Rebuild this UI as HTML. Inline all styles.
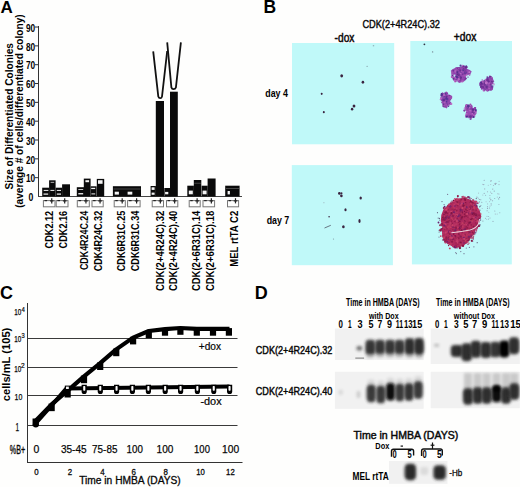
<!DOCTYPE html>
<html><head><meta charset="utf-8"><style>
html,body{margin:0;padding:0;background:#fefefd;width:520px;height:487px;overflow:hidden;}
svg{display:block;}
text{font-family:"Liberation Sans",sans-serif;}
</style></head><body>
<svg width="520" height="487" viewBox="0 0 520 487">
<defs>
<filter id="edge" x="-5%" y="-5%" width="110%" height="110%"><feGaussianBlur stdDeviation="0.6"/></filter>
<filter id="soft" x="-20%" y="-20%" width="140%" height="140%"><feGaussianBlur stdDeviation="0.3"/></filter>
<filter id="bblur" x="-60%" y="-60%" width="220%" height="220%"><feGaussianBlur stdDeviation="1.5"/></filter>
</defs>
<text x="0.6" y="12.7" font-size="17" font-weight="bold" fill="#000">A</text>
<line x1="38.5" y1="26" x2="38.5" y2="197" stroke="#333" stroke-width="1"/>
<line x1="38" y1="196.5" x2="242" y2="196.5" stroke="#444" stroke-width="1"/>
<text x="33.2" y="201.3" font-size="10" font-weight="bold" textLength="4.80" lengthAdjust="spacingAndGlyphs" text-anchor="end">0</text>
<line x1="35" y1="177.67000000000002" x2="38.5" y2="177.67000000000002" stroke="#333" stroke-width="1"/>
<text x="35.2" y="182.37" font-size="10" font-weight="bold" textLength="9.20" lengthAdjust="spacingAndGlyphs" text-anchor="end">10</text>
<line x1="35" y1="158.84" x2="38.5" y2="158.84" stroke="#333" stroke-width="1"/>
<text x="35.2" y="163.54" font-size="10" font-weight="bold" textLength="9.20" lengthAdjust="spacingAndGlyphs" text-anchor="end">20</text>
<line x1="35" y1="140.01" x2="38.5" y2="140.01" stroke="#333" stroke-width="1"/>
<text x="35.2" y="144.70999999999998" font-size="10" font-weight="bold" textLength="9.20" lengthAdjust="spacingAndGlyphs" text-anchor="end">30</text>
<line x1="35" y1="121.18" x2="38.5" y2="121.18" stroke="#333" stroke-width="1"/>
<text x="35.2" y="125.88000000000001" font-size="10" font-weight="bold" textLength="9.20" lengthAdjust="spacingAndGlyphs" text-anchor="end">40</text>
<line x1="35" y1="102.35000000000001" x2="38.5" y2="102.35000000000001" stroke="#333" stroke-width="1"/>
<text x="35.2" y="107.05000000000001" font-size="10" font-weight="bold" textLength="9.20" lengthAdjust="spacingAndGlyphs" text-anchor="end">50</text>
<line x1="35" y1="83.52000000000001" x2="38.5" y2="83.52000000000001" stroke="#333" stroke-width="1"/>
<text x="35.2" y="88.22000000000001" font-size="10" font-weight="bold" textLength="9.20" lengthAdjust="spacingAndGlyphs" text-anchor="end">60</text>
<line x1="35" y1="64.69" x2="38.5" y2="64.69" stroke="#333" stroke-width="1"/>
<text x="35.2" y="69.39" font-size="10" font-weight="bold" textLength="9.20" lengthAdjust="spacingAndGlyphs" text-anchor="end">70</text>
<line x1="35" y1="45.860000000000014" x2="38.5" y2="45.860000000000014" stroke="#333" stroke-width="1"/>
<text x="35.2" y="50.56000000000002" font-size="10" font-weight="bold" textLength="9.20" lengthAdjust="spacingAndGlyphs" text-anchor="end">80</text>
<line x1="35" y1="27.03000000000003" x2="38.5" y2="27.03000000000003" stroke="#333" stroke-width="1"/>
<text x="35.2" y="31.73000000000003" font-size="10" font-weight="bold" textLength="9.20" lengthAdjust="spacingAndGlyphs" text-anchor="end">90</text>
<text transform="translate(12.6,189.5) rotate(-90)" font-size="11.2" font-weight="bold" textLength="146.50" lengthAdjust="spacingAndGlyphs">Size of Differentiated Colonies</text>
<text transform="translate(22.6,207.8) rotate(-90)" font-size="10.4" font-weight="bold" textLength="193.50" lengthAdjust="spacingAndGlyphs">(average # of cells/differentiated colony)</text>
<rect x="42.20" y="187.70" width="7.10" height="8.80" fill="#0a0a0a"/>
<rect x="43.70" y="189.90" width="4.70" height="1.00" fill="#f4f4f4"/>
<rect x="43.50" y="193.50" width="4.70" height="1.20" fill="#f4f4f4"/>
<rect x="49.10" y="180.30" width="6.50" height="16.20" fill="#0a0a0a"/>
<rect x="50.60" y="181.90" width="3.60" height="0.70" fill="#f4f4f4"/>
<rect x="50.40" y="189.90" width="4.00" height="1.00" fill="#f4f4f4"/>
<rect x="55.60" y="187.70" width="6.60" height="8.80" fill="#0a0a0a"/>
<rect x="56.80" y="189.90" width="4.20" height="1.00" fill="#f4f4f4"/>
<rect x="56.80" y="193.50" width="4.20" height="1.20" fill="#f4f4f4"/>
<rect x="62.10" y="184.30" width="7.90" height="12.20" fill="#0a0a0a"/>
<rect x="76.80" y="187.20" width="7.20" height="9.30" fill="#0a0a0a"/>
<rect x="78.30" y="189.20" width="4.90" height="0.80" fill="#f4f4f4"/>
<rect x="78.30" y="193.10" width="4.90" height="1.30" fill="#f4f4f4"/>
<rect x="83.80" y="178.60" width="6.80" height="17.90" fill="#0a0a0a"/>
<rect x="85.40" y="180.20" width="3.70" height="2.00" fill="#f4f4f4"/>
<rect x="90.60" y="186.30" width="6.00" height="10.20" fill="#0a0a0a"/>
<rect x="91.20" y="187.80" width="4.00" height="1.30" fill="#f4f4f4"/>
<rect x="91.40" y="193.40" width="3.80" height="1.00" fill="#f4f4f4"/>
<rect x="96.80" y="178.90" width="7.40" height="17.60" fill="#0a0a0a"/>
<rect x="98.00" y="180.20" width="4.60" height="3.60" fill="#f4f4f4"/>
<rect x="112.90" y="186.20" width="28.10" height="10.30" fill="#0a0a0a"/>
<rect x="114.70" y="191.70" width="4.20" height="2.90" fill="#f4f4f4"/>
<rect x="127.60" y="191.70" width="4.70" height="2.90" fill="#f4f4f4"/>
<rect x="113.50" y="188.60" width="27.00" height="0.80" fill="#555"/>
<rect x="150.60" y="186.00" width="5.30" height="10.50" fill="#0a0a0a"/>
<rect x="151.60" y="187.30" width="3.00" height="2.60" fill="#f4f4f4"/>
<rect x="151.60" y="192.60" width="3.00" height="2.20" fill="#f4f4f4"/>
<rect x="155.80" y="101.00" width="8.20" height="95.50" fill="#0a0a0a"/>
<rect x="164.30" y="188.00" width="5.90" height="8.50" fill="#0a0a0a"/>
<rect x="165.10" y="191.90" width="3.20" height="2.40" fill="#f4f4f4"/>
<rect x="170.00" y="91.70" width="7.80" height="104.80" fill="#0a0a0a"/>
<rect x="187.30" y="185.70" width="6.60" height="10.80" fill="#0a0a0a"/>
<rect x="188.80" y="190.60" width="4.00" height="3.70" fill="#f4f4f4"/>
<rect x="193.80" y="180.00" width="7.50" height="16.50" fill="#0a0a0a"/>
<rect x="194.30" y="182.80" width="6.50" height="0.80" fill="#555"/>
<rect x="201.60" y="185.70" width="6.10" height="10.80" fill="#0a0a0a"/>
<rect x="202.60" y="190.60" width="4.00" height="3.70" fill="#f4f4f4"/>
<rect x="207.60" y="178.50" width="8.00" height="18.00" fill="#0a0a0a"/>
<rect x="225.20" y="185.70" width="14.40" height="10.80" fill="#0a0a0a"/>
<rect x="227.60" y="191.00" width="2.30" height="3.40" fill="#f4f4f4"/>
<rect x="225.80" y="188.20" width="13.20" height="0.80" fill="#555"/>
<path d="M153.2,51.4 L158.3,96.6 Q158.8,98.2 160.2,98.2 Q161.6,98.2 162.0,96.6 L167.2,51.0" fill="none" stroke="#111" stroke-width="1.8"/>
<path d="M167.2,42.3 L171.4,87.6 Q171.9,89.2 173.4,89.2 Q175.4,89.2 175.9,87.6 L180.9,42.3" fill="none" stroke="#111" stroke-width="1.8"/>
<rect x="43.4" y="200.6" width="11.6" height="6.2" fill="none" stroke="#777" stroke-width="1.0"/>
<line x1="44.56" y1="200.6" x2="47.112" y2="200.6" stroke="#222" stroke-width="1.2"/>
<line x1="49.952" y1="200.9" x2="53.55199999999999" y2="200.9" stroke="#222" stroke-width="1.2"/>
<line x1="51.751999999999995" y1="198.2" x2="51.751999999999995" y2="203.4" stroke="#222" stroke-width="1.2"/>
<rect x="56.2" y="200.6" width="11.8" height="6.2" fill="none" stroke="#777" stroke-width="1.0"/>
<line x1="57.38" y1="200.6" x2="59.976" y2="200.6" stroke="#222" stroke-width="1.2"/>
<line x1="62.896" y1="200.9" x2="66.496" y2="200.9" stroke="#222" stroke-width="1.2"/>
<line x1="64.696" y1="198.2" x2="64.696" y2="203.4" stroke="#222" stroke-width="1.2"/>
<rect x="77.3" y="200.6" width="12.0" height="6.2" fill="none" stroke="#777" stroke-width="1.0"/>
<line x1="78.5" y1="200.6" x2="81.14" y2="200.6" stroke="#222" stroke-width="1.2"/>
<line x1="84.14" y1="200.9" x2="87.74" y2="200.9" stroke="#222" stroke-width="1.2"/>
<line x1="85.94" y1="198.2" x2="85.94" y2="203.4" stroke="#222" stroke-width="1.2"/>
<rect x="92.0" y="200.6" width="11.2" height="6.2" fill="none" stroke="#777" stroke-width="1.0"/>
<line x1="93.12" y1="200.6" x2="95.584" y2="200.6" stroke="#222" stroke-width="1.2"/>
<line x1="98.26400000000001" y1="200.9" x2="101.864" y2="200.9" stroke="#222" stroke-width="1.2"/>
<line x1="100.06400000000001" y1="198.2" x2="100.06400000000001" y2="203.4" stroke="#222" stroke-width="1.2"/>
<rect x="114.2" y="200.6" width="11.1" height="6.2" fill="none" stroke="#777" stroke-width="1.0"/>
<line x1="115.31" y1="200.6" x2="117.752" y2="200.6" stroke="#222" stroke-width="1.2"/>
<line x1="120.392" y1="200.9" x2="123.99199999999999" y2="200.9" stroke="#222" stroke-width="1.2"/>
<line x1="122.192" y1="198.2" x2="122.192" y2="203.4" stroke="#222" stroke-width="1.2"/>
<rect x="127.6" y="200.6" width="12.5" height="6.2" fill="none" stroke="#777" stroke-width="1.0"/>
<line x1="128.85" y1="200.6" x2="131.6" y2="200.6" stroke="#222" stroke-width="1.2"/>
<line x1="134.79999999999998" y1="200.9" x2="138.4" y2="200.9" stroke="#222" stroke-width="1.2"/>
<line x1="136.6" y1="198.2" x2="136.6" y2="203.4" stroke="#222" stroke-width="1.2"/>
<rect x="152.2" y="200.6" width="11.3" height="6.2" fill="none" stroke="#777" stroke-width="1.0"/>
<line x1="153.32999999999998" y1="200.6" x2="155.816" y2="200.6" stroke="#222" stroke-width="1.2"/>
<line x1="158.53599999999997" y1="200.9" x2="162.136" y2="200.9" stroke="#222" stroke-width="1.2"/>
<line x1="160.33599999999998" y1="198.2" x2="160.33599999999998" y2="203.4" stroke="#222" stroke-width="1.2"/>
<rect x="166.5" y="200.6" width="11.3" height="6.2" fill="none" stroke="#777" stroke-width="1.0"/>
<line x1="167.63" y1="200.6" x2="170.116" y2="200.6" stroke="#222" stroke-width="1.2"/>
<line x1="172.83599999999998" y1="200.9" x2="176.436" y2="200.9" stroke="#222" stroke-width="1.2"/>
<line x1="174.636" y1="198.2" x2="174.636" y2="203.4" stroke="#222" stroke-width="1.2"/>
<rect x="189.2" y="200.6" width="11.0" height="6.2" fill="none" stroke="#777" stroke-width="1.0"/>
<line x1="190.29999999999998" y1="200.6" x2="192.72" y2="200.6" stroke="#222" stroke-width="1.2"/>
<line x1="195.31999999999996" y1="200.9" x2="198.92" y2="200.9" stroke="#222" stroke-width="1.2"/>
<line x1="197.11999999999998" y1="198.2" x2="197.11999999999998" y2="203.4" stroke="#222" stroke-width="1.2"/>
<rect x="203.0" y="200.6" width="11.6" height="6.2" fill="none" stroke="#777" stroke-width="1.0"/>
<line x1="204.16" y1="200.6" x2="206.712" y2="200.6" stroke="#222" stroke-width="1.2"/>
<line x1="209.552" y1="200.9" x2="213.15200000000002" y2="200.9" stroke="#222" stroke-width="1.2"/>
<line x1="211.352" y1="198.2" x2="211.352" y2="203.4" stroke="#222" stroke-width="1.2"/>
<rect x="227.5" y="200.6" width="11.1" height="6.2" fill="none" stroke="#777" stroke-width="1.0"/>
<line x1="228.61" y1="200.6" x2="231.052" y2="200.6" stroke="#222" stroke-width="1.2"/>
<line x1="233.69199999999998" y1="200.9" x2="237.292" y2="200.9" stroke="#222" stroke-width="1.2"/>
<line x1="235.492" y1="198.2" x2="235.492" y2="203.4" stroke="#222" stroke-width="1.2"/>
<text transform="translate(52.6,210.8) rotate(-90)" font-size="10.3" font-weight="bold" textLength="37.60" lengthAdjust="spacingAndGlyphs" text-anchor="end">CDK2.12</text>
<text transform="translate(66.7,210.8) rotate(-90)" font-size="10.3" font-weight="bold" textLength="37.60" lengthAdjust="spacingAndGlyphs" text-anchor="end">CDK2.16</text>
<text transform="translate(87.8,210.8) rotate(-90)" font-size="10.3" font-weight="bold" textLength="59.30" lengthAdjust="spacingAndGlyphs" text-anchor="end">CDK4R24C.24</text>
<text transform="translate(101.5,210.8) rotate(-90)" font-size="10.3" font-weight="bold" textLength="60.50" lengthAdjust="spacingAndGlyphs" text-anchor="end">CDK4R24C.32</text>
<text transform="translate(125.2,210.8) rotate(-90)" font-size="10.3" font-weight="bold" textLength="60.40" lengthAdjust="spacingAndGlyphs" text-anchor="end">CDK6R31C.25</text>
<text transform="translate(138.5,210.8) rotate(-90)" font-size="10.3" font-weight="bold" textLength="60.40" lengthAdjust="spacingAndGlyphs" text-anchor="end">CDK6R31C.34</text>
<text transform="translate(163.8,210.8) rotate(-90)" font-size="10.3" font-weight="bold" textLength="80.30" lengthAdjust="spacingAndGlyphs" text-anchor="end">CDK(2+4R24C).32</text>
<text transform="translate(176.5,210.8) rotate(-90)" font-size="10.3" font-weight="bold" textLength="80.30" lengthAdjust="spacingAndGlyphs" text-anchor="end">CDK(2+4R24C).40</text>
<text transform="translate(200.4,210.8) rotate(-90)" font-size="10.3" font-weight="bold" textLength="80.30" lengthAdjust="spacingAndGlyphs" text-anchor="end">CDK(2+6R31C).14</text>
<text transform="translate(214.1,210.8) rotate(-90)" font-size="10.3" font-weight="bold" textLength="80.30" lengthAdjust="spacingAndGlyphs" text-anchor="end">CDK(2+6R31C).18</text>
<text transform="translate(237.7,210.8) rotate(-90)" font-size="10.3" font-weight="bold" textLength="55.90" lengthAdjust="spacingAndGlyphs" text-anchor="end">MEL rtTA C2</text>
<text x="263.4" y="12.9" font-size="17.5" font-weight="bold" fill="#000">B</text>
<g filter="url(#edge)">
<rect x="292.00" y="43.00" width="102.20" height="101.30" fill="#c0f9f9"/>
<rect x="410.30" y="41.00" width="101.70" height="102.90" fill="#c0f9f9"/>
<rect x="291.80" y="165.10" width="101.10" height="100.10" fill="#c0f9f9"/>
<rect x="411.90" y="165.20" width="99.90" height="99.20" fill="#c0f9f9"/>
</g>
<text x="362.4" y="28.4" font-size="11.4" textLength="77.60" lengthAdjust="spacingAndGlyphs" stroke="#111" stroke-width="0.42">CDK(2+4R24C).32</text>
<text x="334.6" y="42.4" font-size="12.8" textLength="19.80" lengthAdjust="spacingAndGlyphs" stroke="#111" stroke-width="0.5">-dox</text>
<text x="453.8" y="40.7" font-size="12.8" textLength="22.60" lengthAdjust="spacingAndGlyphs" stroke="#111" stroke-width="0.5">+dox</text>
<text x="265.3" y="97.4" font-size="11.2" font-weight="bold" textLength="22.60" lengthAdjust="spacingAndGlyphs">day 4</text>
<text x="266.7" y="223.6" font-size="11.2" font-weight="bold" textLength="22.60" lengthAdjust="spacingAndGlyphs">day 7</text>
<ellipse cx="341.7" cy="75.8" rx="1.4" ry="1.6099999999999999" fill="#3a2440" opacity="1.0" transform="rotate(0 341.7 75.8)"/>
<ellipse cx="362.9" cy="82.2" rx="1.3" ry="1.4949999999999999" fill="#3a2440" opacity="1.0" transform="rotate(0 362.9 82.2)"/>
<ellipse cx="321.7" cy="93.8" rx="1.0" ry="1.15" fill="#3a2440" opacity="1.0" transform="rotate(0 321.7 93.8)"/>
<ellipse cx="354.0" cy="106.0" rx="1.4" ry="1.6099999999999999" fill="#3a2440" opacity="1.0" transform="rotate(0 354.0 106.0)"/>
<ellipse cx="352.1" cy="109.2" rx="1.2" ry="1.38" fill="#3a2440" opacity="1.0" transform="rotate(0 352.1 109.2)"/>
<ellipse cx="323.8" cy="112.2" rx="1.0" ry="1.15" fill="#3a2440" opacity="1.0" transform="rotate(0 323.8 112.2)"/>
<ellipse cx="367.1" cy="66.3" rx="0.6" ry="0.6" fill="#556" opacity="0.6" transform="rotate(0 367.1 66.3)"/>
<ellipse cx="373.5" cy="45.8" rx="0.8" ry="0.5" fill="#556" opacity="0.6" transform="rotate(0 373.5 45.8)"/>
<g filter="url(#soft)"><path d="M467.4,69.0 L469.8,69.9 L471.7,71.6 L470.5,74.0 L466.6,75.2 L465.7,76.3 L466.8,79.0 L465.1,79.9 L463.9,81.7 L461.9,81.6 L459.9,82.9 L457.9,82.3 L456.8,80.3 L453.9,81.1 L452.6,79.4 L455.1,76.1 L455.7,74.7 L453.1,73.5 L450.6,71.1 L452.4,69.3 L454.6,68.3 L456.1,67.0 L458.3,67.2 L459.9,67.1 L461.5,66.7 L463.4,66.0 L464.9,66.8 L465.9,68.3Z" fill="#9448b0"/>
<circle cx="456.4" cy="76.0" r="0.86" fill="#6a2a90" opacity="0.69"/>
<circle cx="456.3" cy="79.5" r="1.25" fill="#7a3aa0" opacity="0.55"/>
<circle cx="460.5" cy="78.3" r="1.24" fill="#c070c8" opacity="0.73"/>
<circle cx="464.9" cy="79.6" r="0.95" fill="#6a2a90" opacity="0.72"/>
<circle cx="463.4" cy="70.0" r="1.20" fill="#4a3090" opacity="0.75"/>
<circle cx="465.4" cy="74.0" r="0.94" fill="#8a3aa8" opacity="0.80"/>
<circle cx="464.5" cy="68.5" r="1.26" fill="#8a3aa8" opacity="0.52"/>
<circle cx="461.1" cy="71.3" r="0.75" fill="#a050b0" opacity="0.94"/>
<circle cx="465.1" cy="71.5" r="1.37" fill="#a050b0" opacity="0.68"/>
<circle cx="461.8" cy="79.9" r="0.92" fill="#7a3aa0" opacity="0.80"/>
<circle cx="464.5" cy="75.7" r="0.95" fill="#b060c0" opacity="0.73"/>
<circle cx="461.0" cy="72.1" r="0.65" fill="#4a3090" opacity="0.76"/>
<circle cx="456.5" cy="76.8" r="1.04" fill="#4a3090" opacity="0.69"/>
<circle cx="463.3" cy="68.6" r="1.14" fill="#a050b0" opacity="0.79"/>
<circle cx="458.5" cy="68.9" r="0.68" fill="#7a3aa0" opacity="0.51"/>
<circle cx="465.6" cy="69.4" r="1.28" fill="#7a3aa0" opacity="0.61"/>
<circle cx="456.4" cy="79.3" r="0.91" fill="#5a2a88" opacity="0.58"/>
<circle cx="464.4" cy="74.1" r="0.87" fill="#4a3090" opacity="0.72"/>
<circle cx="453.5" cy="75.1" r="0.91" fill="#a050b0" opacity="0.62"/>
<circle cx="459.4" cy="79.3" r="1.48" fill="#c070c8" opacity="0.87"/>
<circle cx="457.8" cy="80.2" r="0.74" fill="#c070c8" opacity="0.75"/>
<circle cx="465.2" cy="70.9" r="0.80" fill="#6a2a90" opacity="0.68"/>
<circle cx="460.2" cy="70.5" r="1.17" fill="#6a2a90" opacity="0.83"/>
<circle cx="452.7" cy="73.6" r="0.64" fill="#5a2a88" opacity="0.89"/>
<circle cx="462.2" cy="81.5" r="1.27" fill="#c070c8" opacity="0.75"/>
<circle cx="456.1" cy="78.2" r="1.37" fill="#a050b0" opacity="0.93"/>
<circle cx="458.7" cy="68.6" r="1.38" fill="#6a2a90" opacity="0.67"/>
<circle cx="455.8" cy="71.3" r="1.21" fill="#c070c8" opacity="0.77"/>
<circle cx="464.8" cy="79.6" r="0.95" fill="#8a3aa8" opacity="0.51"/>
<circle cx="461.5" cy="71.3" r="0.85" fill="#b060c0" opacity="0.59"/>
<circle cx="463.4" cy="68.7" r="0.79" fill="#5a2a88" opacity="0.88"/>
<circle cx="465.5" cy="67.3" r="1.39" fill="#8a3aa8" opacity="0.85"/>
<circle cx="457.2" cy="67.6" r="0.64" fill="#b060c0" opacity="0.58"/>
<circle cx="465.5" cy="72.4" r="1.36" fill="#4a3090" opacity="0.65"/>
<circle cx="452.8" cy="74.0" r="1.45" fill="#8a3aa8" opacity="0.56"/>
<circle cx="457.8" cy="67.9" r="0.64" fill="#5a2a88" opacity="0.67"/>
<circle cx="466.0" cy="78.5" r="0.67" fill="#a050b0" opacity="0.75"/>
<circle cx="466.0" cy="67.3" r="0.87" fill="#5a2a88" opacity="0.71"/>
<circle cx="460.3" cy="79.8" r="1.34" fill="#6a2a90" opacity="0.78"/>
<circle cx="453.0" cy="77.4" r="1.34" fill="#6a2a90" opacity="0.58"/>
<circle cx="465.7" cy="72.0" r="0.75" fill="#8a3aa8" opacity="0.58"/>
<circle cx="459.4" cy="79.6" r="0.69" fill="#c070c8" opacity="0.86"/>
<circle cx="464.4" cy="77.5" r="1.10" fill="#8a3aa8" opacity="0.64"/>
<circle cx="454.9" cy="74.2" r="0.62" fill="#7a3aa0" opacity="0.83"/>
<circle cx="457.2" cy="74.1" r="0.96" fill="#5a2a88" opacity="0.91"/>
<circle cx="452.5" cy="73.8" r="1.16" fill="#8a3aa8" opacity="0.80"/>
<circle cx="457.7" cy="76.7" r="0.88" fill="#a050b0" opacity="0.66"/>
<circle cx="460.6" cy="65.7" r="1.12" fill="#4a3090" opacity="0.92"/>
<circle cx="457.4" cy="72.2" r="0.89" fill="#4a3090" opacity="0.86"/>
<circle cx="465.9" cy="78.5" r="0.82" fill="#5a2a88" opacity="0.74"/>
<circle cx="462.8" cy="74.2" r="0.82" fill="#6a2a90" opacity="0.86"/>
<circle cx="457.2" cy="71.6" r="1.38" fill="#5a2a88" opacity="0.51"/>
<circle cx="458.5" cy="74.7" r="1.37" fill="#5a2a88" opacity="0.73"/>
<circle cx="463.7" cy="68.1" r="0.70" fill="#7a3aa0" opacity="0.56"/>
<circle cx="457.0" cy="77.3" r="1.25" fill="#4a3090" opacity="0.87"/>
<circle cx="464.2" cy="74.8" r="1.10" fill="#a050b0" opacity="0.58"/>
<circle cx="456.6" cy="69.8" r="1.24" fill="#a050b0" opacity="0.61"/>
<circle cx="465.7" cy="71.3" r="1.09" fill="#8a3aa8" opacity="0.50"/>
<circle cx="462.6" cy="65.9" r="1.04" fill="#c070c8" opacity="0.94"/>
<circle cx="462.8" cy="74.1" r="0.72" fill="#7a3aa0" opacity="0.68"/>
<circle cx="460.4" cy="76.2" r="0.81" fill="#6a2a90" opacity="0.58"/>
<circle cx="461.9" cy="80.8" r="1.43" fill="#a050b0" opacity="0.61"/>
<circle cx="460.5" cy="73.5" r="0.80" fill="#c070c8" opacity="0.65"/>
<circle cx="464.5" cy="75.6" r="1.19" fill="#a050b0" opacity="0.52"/>
<circle cx="454.8" cy="78.2" r="1.39" fill="#b060c0" opacity="0.73"/>
<circle cx="462.2" cy="66.8" r="0.87" fill="#7a3aa0" opacity="0.88"/>
<circle cx="460.8" cy="77.7" r="1.26" fill="#5a2a88" opacity="0.89"/>
<circle cx="458.8" cy="68.7" r="0.83" fill="#a050b0" opacity="0.92"/>
<circle cx="466.6" cy="75.3" r="1.05" fill="#c070c8" opacity="0.82"/>
<circle cx="458.8" cy="75.4" r="0.75" fill="#6a2a90" opacity="0.74"/>
<circle cx="469.2" cy="73.1" r="0.66" fill="#5a2a88"/>
<circle cx="466.3" cy="67.4" r="1.07" fill="#5a2a88"/>
<circle cx="455.2" cy="81.3" r="1.18" fill="#c070c8"/>
<circle cx="466.2" cy="66.0" r="0.84" fill="#4a3090"/>
<circle cx="455.8" cy="81.1" r="0.89" fill="#a050b0"/>
<circle cx="469.5" cy="74.6" r="0.84" fill="#5a2a88"/>
<circle cx="453.2" cy="70.8" r="0.83" fill="#6a2a90"/>
<circle cx="466.7" cy="67.0" r="0.95" fill="#6a2a90"/>
<circle cx="452.2" cy="72.4" r="1.10" fill="#a050b0"/>
<circle cx="468.0" cy="77.1" r="0.72" fill="#7a3aa0"/>
<circle cx="452.5" cy="74.6" r="1.01" fill="#b060c0"/>
<circle cx="452.5" cy="76.7" r="1.11" fill="#a050b0"/>
<circle cx="452.3" cy="75.4" r="0.77" fill="#5a2a88"/>
<circle cx="463.9" cy="66.3" r="0.94" fill="#6a2a90"/>
<circle cx="451.8" cy="76.9" r="1.06" fill="#b060c0"/>
<circle cx="469.3" cy="72.3" r="1.08" fill="#c070c8"/>
<circle cx="453.6" cy="78.6" r="0.92" fill="#6a2a90"/>
<circle cx="469.6" cy="74.9" r="0.81" fill="#c070c8"/>
</g>
<g filter="url(#soft)"><path d="M493.1,87.3 L493.0,89.5 L491.5,90.7 L489.5,90.4 L488.1,91.2 L486.6,91.2 L485.3,90.3 L484.6,89.0 L483.0,89.1 L482.2,88.1 L481.6,86.8 L480.4,85.6 L479.0,83.9 L479.8,81.9 L482.0,80.8 L484.2,80.7 L485.2,80.1 L485.9,78.9 L487.0,77.5 L488.4,77.4 L490.0,76.8 L491.9,76.4 L492.4,78.4 L493.3,79.6 L493.8,81.0 L493.3,82.7 L492.3,84.1 L491.3,85.0Z" fill="#9046ac"/>
<circle cx="483.9" cy="90.4" r="1.21" fill="#b060c0" opacity="0.95"/>
<circle cx="487.5" cy="82.6" r="1.07" fill="#4a3090" opacity="0.86"/>
<circle cx="488.7" cy="88.3" r="1.02" fill="#a050b0" opacity="0.72"/>
<circle cx="492.1" cy="86.7" r="1.35" fill="#4a3090" opacity="0.80"/>
<circle cx="484.0" cy="88.8" r="0.92" fill="#8a3aa8" opacity="0.72"/>
<circle cx="485.7" cy="80.0" r="1.23" fill="#b060c0" opacity="0.89"/>
<circle cx="486.8" cy="88.2" r="1.03" fill="#7a3aa0" opacity="0.93"/>
<circle cx="489.7" cy="85.4" r="1.07" fill="#c070c8" opacity="0.64"/>
<circle cx="484.2" cy="82.3" r="1.44" fill="#5a2a88" opacity="0.85"/>
<circle cx="482.6" cy="82.5" r="0.64" fill="#a050b0" opacity="0.81"/>
<circle cx="490.2" cy="89.9" r="0.72" fill="#7a3aa0" opacity="0.61"/>
<circle cx="481.5" cy="87.0" r="0.98" fill="#6a2a90" opacity="0.53"/>
<circle cx="487.8" cy="79.9" r="0.62" fill="#5a2a88" opacity="0.93"/>
<circle cx="493.5" cy="81.6" r="0.77" fill="#6a2a90" opacity="0.67"/>
<circle cx="484.9" cy="84.5" r="1.27" fill="#5a2a88" opacity="0.63"/>
<circle cx="488.8" cy="81.5" r="1.10" fill="#6a2a90" opacity="0.91"/>
<circle cx="487.6" cy="90.2" r="1.23" fill="#8a3aa8" opacity="0.93"/>
<circle cx="481.7" cy="83.8" r="1.35" fill="#6a2a90" opacity="0.70"/>
<circle cx="489.2" cy="83.2" r="1.06" fill="#b060c0" opacity="0.89"/>
<circle cx="487.5" cy="80.0" r="1.47" fill="#6a2a90" opacity="0.81"/>
<circle cx="491.3" cy="89.1" r="0.83" fill="#b060c0" opacity="0.57"/>
<circle cx="482.1" cy="83.2" r="1.06" fill="#6a2a90" opacity="0.95"/>
<circle cx="485.0" cy="81.6" r="0.83" fill="#a050b0" opacity="0.78"/>
<circle cx="489.2" cy="88.6" r="0.83" fill="#c070c8" opacity="0.63"/>
<circle cx="492.8" cy="81.1" r="0.95" fill="#b060c0" opacity="0.55"/>
<circle cx="491.9" cy="82.1" r="0.69" fill="#b060c0" opacity="0.84"/>
<circle cx="489.7" cy="84.5" r="1.08" fill="#c070c8" opacity="0.60"/>
<circle cx="490.5" cy="84.6" r="1.06" fill="#6a2a90" opacity="0.90"/>
<circle cx="491.6" cy="87.7" r="1.43" fill="#8a3aa8" opacity="0.66"/>
<circle cx="484.6" cy="89.5" r="1.15" fill="#7a3aa0" opacity="0.81"/>
<circle cx="493.6" cy="84.3" r="1.39" fill="#c070c8" opacity="0.55"/>
<circle cx="482.9" cy="87.1" r="1.21" fill="#6a2a90" opacity="0.87"/>
<circle cx="481.7" cy="83.0" r="1.02" fill="#5a2a88" opacity="0.50"/>
<circle cx="492.0" cy="81.8" r="1.04" fill="#5a2a88" opacity="0.76"/>
<circle cx="486.6" cy="82.8" r="1.28" fill="#c070c8" opacity="0.90"/>
<circle cx="487.6" cy="77.6" r="1.15" fill="#4a3090" opacity="0.79"/>
<circle cx="491.1" cy="89.4" r="0.62" fill="#8a3aa8" opacity="0.85"/>
<circle cx="490.0" cy="85.4" r="0.92" fill="#8a3aa8" opacity="0.56"/>
<circle cx="486.2" cy="83.0" r="1.38" fill="#c070c8" opacity="0.92"/>
<circle cx="492.7" cy="83.5" r="0.81" fill="#8a3aa8" opacity="0.77"/>
<circle cx="486.6" cy="86.8" r="1.23" fill="#5a2a88" opacity="0.76"/>
<circle cx="484.2" cy="80.7" r="0.66" fill="#5a2a88" opacity="0.91"/>
<circle cx="487.2" cy="89.1" r="0.63" fill="#7a3aa0" opacity="0.68"/>
<circle cx="487.0" cy="90.2" r="0.90" fill="#b060c0" opacity="0.74"/>
<circle cx="483.0" cy="82.1" r="1.45" fill="#c070c8" opacity="0.54"/>
<circle cx="482.2" cy="80.0" r="0.75" fill="#b060c0"/>
<circle cx="481.0" cy="82.4" r="0.84" fill="#4a3090"/>
<circle cx="492.3" cy="78.3" r="0.69" fill="#8a3aa8"/>
<circle cx="490.2" cy="76.7" r="0.83" fill="#b060c0"/>
<circle cx="481.3" cy="85.4" r="0.76" fill="#7a3aa0"/>
<circle cx="489.9" cy="76.5" r="1.02" fill="#8a3aa8"/>
<circle cx="481.0" cy="86.9" r="1.03" fill="#5a2a88"/>
<circle cx="491.9" cy="77.4" r="0.73" fill="#a050b0"/>
<circle cx="480.6" cy="85.1" r="1.19" fill="#6a2a90"/>
<circle cx="481.9" cy="88.7" r="1.14" fill="#8a3aa8"/>
<circle cx="487.2" cy="76.5" r="0.61" fill="#a050b0"/>
<circle cx="490.5" cy="77.1" r="1.14" fill="#5a2a88"/>
<circle cx="480.8" cy="85.7" r="1.08" fill="#7a3aa0"/>
<circle cx="491.1" cy="77.3" r="0.71" fill="#b060c0"/>
</g>
<g filter="url(#soft)"><path d="M452.1,98.2 L450.4,100.0 L450.1,101.2 L451.9,103.6 L450.4,104.3 L448.9,104.1 L448.7,105.7 L447.8,106.3 L446.9,108.5 L445.4,107.7 L444.0,107.4 L443.2,105.3 L442.3,104.0 L442.1,102.3 L441.9,100.9 L440.1,99.5 L440.0,97.8 L441.9,97.1 L441.2,95.0 L441.4,93.0 L442.5,92.2 L444.3,93.5 L445.3,92.9 L446.4,94.2 L447.5,94.2 L448.7,94.5 L450.2,95.1 L452.2,95.9Z" fill="#9448b0"/>
<circle cx="446.1" cy="104.4" r="1.00" fill="#b060c0" opacity="0.90"/>
<circle cx="445.8" cy="101.8" r="0.87" fill="#c070c8" opacity="0.76"/>
<circle cx="446.0" cy="98.4" r="0.81" fill="#4a3090" opacity="0.81"/>
<circle cx="443.9" cy="105.8" r="1.47" fill="#5a2a88" opacity="0.82"/>
<circle cx="444.3" cy="105.3" r="1.12" fill="#7a3aa0" opacity="0.56"/>
<circle cx="446.3" cy="101.8" r="1.04" fill="#4a3090" opacity="0.86"/>
<circle cx="443.8" cy="95.1" r="0.86" fill="#c070c8" opacity="0.89"/>
<circle cx="441.8" cy="102.7" r="0.64" fill="#4a3090" opacity="0.75"/>
<circle cx="449.5" cy="95.5" r="0.81" fill="#6a2a90" opacity="0.64"/>
<circle cx="442.0" cy="102.4" r="0.63" fill="#a050b0" opacity="0.94"/>
<circle cx="443.0" cy="97.0" r="1.22" fill="#4a3090" opacity="0.64"/>
<circle cx="444.6" cy="99.6" r="1.07" fill="#5a2a88" opacity="0.78"/>
<circle cx="450.5" cy="98.7" r="0.99" fill="#a050b0" opacity="0.92"/>
<circle cx="444.4" cy="96.5" r="0.87" fill="#4a3090" opacity="0.51"/>
<circle cx="445.4" cy="101.2" r="0.62" fill="#b060c0" opacity="0.53"/>
<circle cx="447.2" cy="99.0" r="1.21" fill="#4a3090" opacity="0.77"/>
<circle cx="443.7" cy="100.3" r="1.13" fill="#6a2a90" opacity="0.93"/>
<circle cx="443.3" cy="99.9" r="1.13" fill="#4a3090" opacity="0.58"/>
<circle cx="443.8" cy="104.3" r="1.36" fill="#7a3aa0" opacity="0.64"/>
<circle cx="445.8" cy="104.0" r="0.62" fill="#b060c0" opacity="0.64"/>
<circle cx="444.3" cy="104.9" r="0.81" fill="#b060c0" opacity="0.81"/>
<circle cx="446.0" cy="93.7" r="1.14" fill="#4a3090" opacity="0.80"/>
<circle cx="444.4" cy="105.0" r="1.46" fill="#5a2a88" opacity="0.65"/>
<circle cx="449.0" cy="104.8" r="1.01" fill="#a050b0" opacity="0.85"/>
<circle cx="445.4" cy="105.1" r="1.12" fill="#7a3aa0" opacity="0.65"/>
<circle cx="447.6" cy="100.7" r="0.98" fill="#7a3aa0" opacity="0.71"/>
<circle cx="446.6" cy="96.5" r="1.11" fill="#6a2a90" opacity="0.91"/>
<circle cx="450.7" cy="97.5" r="1.46" fill="#a050b0" opacity="0.51"/>
<circle cx="446.5" cy="103.5" r="1.27" fill="#7a3aa0" opacity="0.74"/>
<circle cx="441.1" cy="97.2" r="0.63" fill="#a050b0" opacity="0.90"/>
<circle cx="450.4" cy="99.8" r="0.61" fill="#5a2a88" opacity="0.58"/>
<circle cx="444.6" cy="102.7" r="1.07" fill="#c070c8" opacity="0.52"/>
<circle cx="447.6" cy="104.1" r="0.66" fill="#a050b0" opacity="0.59"/>
<circle cx="447.6" cy="104.2" r="0.75" fill="#7a3aa0" opacity="0.91"/>
<circle cx="450.4" cy="103.5" r="0.61" fill="#c070c8" opacity="0.52"/>
<circle cx="442.8" cy="97.1" r="1.07" fill="#c070c8" opacity="0.52"/>
<circle cx="445.4" cy="104.8" r="1.37" fill="#b060c0" opacity="0.52"/>
<circle cx="441.3" cy="100.8" r="0.63" fill="#5a2a88" opacity="0.73"/>
<circle cx="444.6" cy="95.0" r="0.66" fill="#c070c8" opacity="0.79"/>
<circle cx="446.4" cy="97.6" r="0.77" fill="#4a3090" opacity="0.69"/>
<circle cx="450.6" cy="103.7" r="1.03" fill="#5a2a88"/>
<circle cx="440.9" cy="98.3" r="0.88" fill="#c070c8"/>
<circle cx="441.5" cy="95.6" r="1.13" fill="#6a2a90"/>
<circle cx="443.8" cy="105.9" r="1.02" fill="#c070c8"/>
<circle cx="450.3" cy="96.3" r="0.61" fill="#a050b0"/>
<circle cx="440.3" cy="99.5" r="0.64" fill="#c070c8"/>
<circle cx="448.6" cy="106.3" r="0.62" fill="#4a3090"/>
<circle cx="443.6" cy="106.3" r="1.07" fill="#7a3aa0"/>
<circle cx="451.2" cy="103.9" r="1.16" fill="#c070c8"/>
<circle cx="441.6" cy="94.0" r="0.94" fill="#5a2a88"/>
<circle cx="446.2" cy="92.4" r="0.88" fill="#a050b0"/>
<circle cx="445.0" cy="93.0" r="0.66" fill="#5a2a88"/>
<circle cx="441.7" cy="94.6" r="1.09" fill="#4a3090"/>
<circle cx="447.1" cy="93.4" r="1.11" fill="#8a3aa8"/>
</g>
<g filter="url(#soft)"><path d="M476.3,110.5 L476.4,112.2 L476.4,114.0 L475.3,115.1 L474.2,115.8 L472.6,115.5 L472.5,117.6 L471.6,118.8 L470.3,118.5 L469.2,117.1 L468.1,117.0 L465.8,118.1 L465.0,116.2 L465.6,113.9 L465.9,112.4 L466.2,111.2 L465.4,109.7 L464.9,107.8 L465.0,105.8 L465.8,104.1 L467.5,104.2 L469.4,106.7 L470.3,105.4 L471.6,104.6 L472.7,105.9 L472.7,108.1 L473.9,108.4 L475.3,109.2Z" fill="#984cb2"/>
<circle cx="470.3" cy="108.8" r="1.42" fill="#7a3aa0" opacity="0.88"/>
<circle cx="470.2" cy="110.4" r="1.14" fill="#c070c8" opacity="0.70"/>
<circle cx="466.8" cy="108.8" r="1.32" fill="#5a2a88" opacity="0.52"/>
<circle cx="471.1" cy="108.4" r="1.08" fill="#8a3aa8" opacity="0.82"/>
<circle cx="466.9" cy="114.7" r="0.66" fill="#a050b0" opacity="0.79"/>
<circle cx="468.9" cy="107.4" r="0.99" fill="#4a3090" opacity="0.79"/>
<circle cx="466.6" cy="109.8" r="1.36" fill="#a050b0" opacity="0.62"/>
<circle cx="472.1" cy="116.4" r="0.71" fill="#b060c0" opacity="0.63"/>
<circle cx="464.8" cy="110.6" r="0.67" fill="#7a3aa0" opacity="0.83"/>
<circle cx="473.1" cy="109.8" r="1.45" fill="#5a2a88" opacity="0.63"/>
<circle cx="466.8" cy="111.4" r="0.72" fill="#c070c8" opacity="0.77"/>
<circle cx="466.8" cy="113.3" r="0.93" fill="#8a3aa8" opacity="0.58"/>
<circle cx="473.0" cy="109.2" r="0.86" fill="#5a2a88" opacity="0.70"/>
<circle cx="473.1" cy="112.5" r="1.47" fill="#6a2a90" opacity="0.75"/>
<circle cx="470.8" cy="109.0" r="0.63" fill="#7a3aa0" opacity="0.85"/>
<circle cx="470.5" cy="118.4" r="1.03" fill="#a050b0" opacity="0.70"/>
<circle cx="469.5" cy="107.8" r="1.00" fill="#c070c8" opacity="0.87"/>
<circle cx="469.2" cy="105.2" r="0.83" fill="#a050b0" opacity="0.74"/>
<circle cx="473.1" cy="109.9" r="0.84" fill="#4a3090" opacity="0.52"/>
<circle cx="475.1" cy="111.7" r="1.49" fill="#c070c8" opacity="0.93"/>
<circle cx="472.9" cy="116.4" r="1.25" fill="#6a2a90" opacity="0.72"/>
<circle cx="465.2" cy="108.4" r="1.39" fill="#b060c0" opacity="0.65"/>
<circle cx="472.7" cy="115.4" r="1.18" fill="#c070c8" opacity="0.74"/>
<circle cx="472.4" cy="113.8" r="0.84" fill="#c070c8" opacity="0.93"/>
<circle cx="475.7" cy="113.0" r="0.64" fill="#b060c0" opacity="0.85"/>
<circle cx="468.7" cy="116.9" r="1.38" fill="#8a3aa8" opacity="0.76"/>
<circle cx="474.0" cy="117.0" r="0.80" fill="#6a2a90" opacity="0.60"/>
<circle cx="466.8" cy="113.8" r="0.83" fill="#c070c8" opacity="0.86"/>
<circle cx="474.3" cy="116.2" r="1.10" fill="#a050b0" opacity="0.57"/>
<circle cx="472.2" cy="115.7" r="1.11" fill="#8a3aa8" opacity="0.91"/>
<circle cx="468.6" cy="106.0" r="1.23" fill="#5a2a88" opacity="0.72"/>
<circle cx="474.5" cy="112.4" r="0.72" fill="#4a3090" opacity="0.54"/>
<circle cx="467.7" cy="109.9" r="0.67" fill="#8a3aa8" opacity="0.67"/>
<circle cx="473.0" cy="108.5" r="0.81" fill="#8a3aa8" opacity="0.88"/>
<circle cx="468.2" cy="106.0" r="1.42" fill="#4a3090" opacity="0.73"/>
<circle cx="470.4" cy="116.6" r="1.30" fill="#5a2a88" opacity="0.78"/>
<circle cx="475.1" cy="108.1" r="1.16" fill="#8a3aa8"/>
<circle cx="465.8" cy="115.9" r="0.70" fill="#b060c0"/>
<circle cx="473.6" cy="117.0" r="0.90" fill="#4a3090"/>
<circle cx="471.3" cy="119.1" r="0.60" fill="#b060c0"/>
<circle cx="475.7" cy="110.9" r="0.93" fill="#8a3aa8"/>
<circle cx="470.4" cy="104.5" r="0.92" fill="#a050b0"/>
<circle cx="466.4" cy="115.9" r="0.74" fill="#b060c0"/>
<circle cx="475.8" cy="110.0" r="1.01" fill="#4a3090"/>
<circle cx="464.3" cy="110.6" r="1.07" fill="#7a3aa0"/>
<circle cx="474.9" cy="108.0" r="0.86" fill="#8a3aa8"/>
<circle cx="466.9" cy="116.5" r="0.96" fill="#4a3090"/>
<circle cx="474.6" cy="115.8" r="0.69" fill="#b060c0"/>
<circle cx="470.3" cy="119.1" r="0.72" fill="#4a3090"/>
<circle cx="466.5" cy="105.5" r="0.65" fill="#b060c0"/>
</g>
<ellipse cx="424.4" cy="44.3" rx="0.9" ry="0.9" fill="#334" opacity="1.0" transform="rotate(0 424.4 44.3)"/>
<ellipse cx="432.6" cy="51.9" rx="0.7" ry="0.7" fill="#556" opacity="0.7" transform="rotate(0 432.6 51.9)"/>
<ellipse cx="339.4" cy="193.4" rx="1.4" ry="1.3" fill="#3a2440" opacity="1.0" transform="rotate(0 339.4 193.4)"/>
<ellipse cx="341.4" cy="195.8" rx="1.3" ry="1.5" fill="#3a2440" opacity="1.0" transform="rotate(0 341.4 195.8)"/>
<ellipse cx="341.6" cy="193.2" rx="0.9" ry="0.9" fill="#3a2440" opacity="1.0" transform="rotate(0 341.6 193.2)"/>
<ellipse cx="360.7" cy="198.1" rx="1.2" ry="1.5" fill="#3a2440" opacity="1.0" transform="rotate(0 360.7 198.1)"/>
<ellipse cx="345.5" cy="209.7" rx="1.1" ry="1.5" fill="#3a2440" opacity="1.0" transform="rotate(0 345.5 209.7)"/>
<ellipse cx="329.1" cy="216.8" rx="0.8" ry="0.8" fill="#3a2440" opacity="1.0" transform="rotate(0 329.1 216.8)"/>
<ellipse cx="359.5" cy="221.0" rx="1.1" ry="2.0" fill="#3a2440" opacity="1.0" transform="rotate(0 359.5 221.0)"/>
<ellipse cx="343.4" cy="226.8" rx="1.3" ry="1.5" fill="#3a2440" opacity="1.0" transform="rotate(0 343.4 226.8)"/>
<line x1="324.5" y1="228.0" x2="330.8" y2="225.3" stroke="#445" stroke-width="0.9" opacity="0.8"/>
<ellipse cx="333.5" cy="239.0" rx="0.6" ry="0.6" fill="#556" opacity="0.6" transform="rotate(0 333.5 239.0)"/>
<ellipse cx="323.9" cy="202.7" rx="0.6" ry="0.6" fill="#889" opacity="0.5" transform="rotate(0 323.9 202.7)"/>
<ellipse cx="483.8" cy="184.6" rx="0.55" ry="0.55" fill="#6a5a80" opacity="0.6" transform="rotate(0 483.8 184.6)"/>
<ellipse cx="477.7" cy="201.6" rx="0.55" ry="0.55" fill="#9a9ab0" opacity="0.6" transform="rotate(0 477.7 201.6)"/>
<ellipse cx="490.0" cy="218.0" rx="0.55" ry="0.55" fill="#8a7a98" opacity="0.6" transform="rotate(0 490.0 218.0)"/>
<ellipse cx="476.9" cy="197.1" rx="0.55" ry="0.55" fill="#6a5a80" opacity="0.6" transform="rotate(0 476.9 197.1)"/>
<ellipse cx="481.8" cy="202.2" rx="0.55" ry="0.55" fill="#6a5a80" opacity="0.6" transform="rotate(0 481.8 202.2)"/>
<ellipse cx="495.8" cy="183.4" rx="0.55" ry="0.55" fill="#8a7a98" opacity="0.6" transform="rotate(0 495.8 183.4)"/>
<ellipse cx="491.1" cy="203.7" rx="0.55" ry="0.55" fill="#6a5a80" opacity="0.6" transform="rotate(0 491.1 203.7)"/>
<ellipse cx="489.9" cy="195.5" rx="0.55" ry="0.55" fill="#8a7a98" opacity="0.6" transform="rotate(0 489.9 195.5)"/>
<ellipse cx="477.1" cy="215.8" rx="0.55" ry="0.55" fill="#9a9ab0" opacity="0.6" transform="rotate(0 477.1 215.8)"/>
<ellipse cx="486.1" cy="201.8" rx="0.55" ry="0.55" fill="#9a9ab0" opacity="0.6" transform="rotate(0 486.1 201.8)"/>
<ellipse cx="489.4" cy="208.0" rx="0.55" ry="0.55" fill="#6a5a80" opacity="0.6" transform="rotate(0 489.4 208.0)"/>
<ellipse cx="490.0" cy="206.1" rx="0.55" ry="0.55" fill="#9a9ab0" opacity="0.6" transform="rotate(0 490.0 206.1)"/>
<ellipse cx="478.3" cy="209.3" rx="0.55" ry="0.55" fill="#6a5a80" opacity="0.6" transform="rotate(0 478.3 209.3)"/>
<ellipse cx="490.9" cy="199.8" rx="0.55" ry="0.55" fill="#7a7a98" opacity="0.6" transform="rotate(0 490.9 199.8)"/>
<ellipse cx="494.7" cy="198.5" rx="0.55" ry="0.55" fill="#7a7a98" opacity="0.6" transform="rotate(0 494.7 198.5)"/>
<ellipse cx="484.7" cy="188.9" rx="0.55" ry="0.55" fill="#8a7a98" opacity="0.6" transform="rotate(0 484.7 188.9)"/>
<ellipse cx="492.8" cy="188.7" rx="0.55" ry="0.55" fill="#9a9ab0" opacity="0.6" transform="rotate(0 492.8 188.7)"/>
<ellipse cx="488.6" cy="216.5" rx="0.55" ry="0.55" fill="#7a7a98" opacity="0.6" transform="rotate(0 488.6 216.5)"/>
<ellipse cx="482.9" cy="221.1" rx="0.55" ry="0.55" fill="#6a5a80" opacity="0.6" transform="rotate(0 482.9 221.1)"/>
<ellipse cx="488.3" cy="185.3" rx="0.55" ry="0.55" fill="#9a9ab0" opacity="0.6" transform="rotate(0 488.3 185.3)"/>
<ellipse cx="479.6" cy="199.5" rx="0.55" ry="0.55" fill="#6a5a80" opacity="0.6" transform="rotate(0 479.6 199.5)"/>
<ellipse cx="499.1" cy="181.4" rx="0.55" ry="0.55" fill="#9a9ab0" opacity="0.6" transform="rotate(0 499.1 181.4)"/>
<ellipse cx="484.2" cy="193.4" rx="0.55" ry="0.55" fill="#7a7a98" opacity="0.6" transform="rotate(0 484.2 193.4)"/>
<ellipse cx="489.9" cy="198.1" rx="0.55" ry="0.55" fill="#6a5a80" opacity="0.6" transform="rotate(0 489.9 198.1)"/>
<ellipse cx="498.7" cy="198.9" rx="0.55" ry="0.55" fill="#6a5a80" opacity="0.6" transform="rotate(0 498.7 198.9)"/>
<ellipse cx="477.5" cy="208.9" rx="0.55" ry="0.55" fill="#7a7a98" opacity="0.6" transform="rotate(0 477.5 208.9)"/>
<ellipse cx="482.8" cy="195.0" rx="0.55" ry="0.55" fill="#9a9ab0" opacity="0.6" transform="rotate(0 482.8 195.0)"/>
<ellipse cx="476.5" cy="198.3" rx="0.55" ry="0.55" fill="#8a7a98" opacity="0.6" transform="rotate(0 476.5 198.3)"/>
<ellipse cx="490.7" cy="199.7" rx="0.55" ry="0.55" fill="#8a7a98" opacity="0.6" transform="rotate(0 490.7 199.7)"/>
<ellipse cx="494.4" cy="183.7" rx="0.55" ry="0.55" fill="#8a7a98" opacity="0.6" transform="rotate(0 494.4 183.7)"/>
<ellipse cx="485.5" cy="218.3" rx="0.55" ry="0.55" fill="#7a7a98" opacity="0.6" transform="rotate(0 485.5 218.3)"/>
<ellipse cx="477.9" cy="197.8" rx="0.55" ry="0.55" fill="#9a9ab0" opacity="0.6" transform="rotate(0 477.9 197.8)"/>
<ellipse cx="497.2" cy="214.0" rx="0.55" ry="0.55" fill="#9a9ab0" opacity="0.6" transform="rotate(0 497.2 214.0)"/>
<ellipse cx="493.0" cy="221.4" rx="0.55" ry="0.55" fill="#7a7a98" opacity="0.6" transform="rotate(0 493.0 221.4)"/>
<ellipse cx="499.0" cy="184.6" rx="0.55" ry="0.55" fill="#8a7a98" opacity="0.6" transform="rotate(0 499.0 184.6)"/>
<ellipse cx="479.6" cy="207.0" rx="0.55" ry="0.55" fill="#6a5a80" opacity="0.6" transform="rotate(0 479.6 207.0)"/>
<ellipse cx="487.6" cy="203.9" rx="0.55" ry="0.55" fill="#9a9ab0" opacity="0.6" transform="rotate(0 487.6 203.9)"/>
<ellipse cx="482.8" cy="184.4" rx="0.55" ry="0.55" fill="#9a9ab0" opacity="0.6" transform="rotate(0 482.8 184.4)"/>
<ellipse cx="490.6" cy="192.0" rx="0.55" ry="0.55" fill="#8a7a98" opacity="0.6" transform="rotate(0 490.6 192.0)"/>
<ellipse cx="492.6" cy="200.7" rx="0.55" ry="0.55" fill="#6a5a80" opacity="0.6" transform="rotate(0 492.6 200.7)"/>
<ellipse cx="487.0" cy="216.3" rx="0.55" ry="0.55" fill="#7a7a98" opacity="0.6" transform="rotate(0 487.0 216.3)"/>
<ellipse cx="485.6" cy="195.3" rx="0.55" ry="0.55" fill="#7a7a98" opacity="0.6" transform="rotate(0 485.6 195.3)"/>
<ellipse cx="491.2" cy="180.7" rx="0.55" ry="0.55" fill="#6a5a80" opacity="0.6" transform="rotate(0 491.2 180.7)"/>
<ellipse cx="499.6" cy="197.4" rx="0.55" ry="0.55" fill="#6a5a80" opacity="0.6" transform="rotate(0 499.6 197.4)"/>
<ellipse cx="484.2" cy="180.3" rx="0.55" ry="0.55" fill="#6a5a80" opacity="0.6" transform="rotate(0 484.2 180.3)"/>
<ellipse cx="489.6" cy="201.6" rx="0.55" ry="0.55" fill="#9a9ab0" opacity="0.6" transform="rotate(0 489.6 201.6)"/>
<ellipse cx="490.7" cy="181.1" rx="0.55" ry="0.55" fill="#8a7a98" opacity="0.6" transform="rotate(0 490.7 181.1)"/>
<ellipse cx="490.7" cy="184.5" rx="0.55" ry="0.55" fill="#9a9ab0" opacity="0.6" transform="rotate(0 490.7 184.5)"/>
<ellipse cx="498.9" cy="204.5" rx="0.55" ry="0.55" fill="#7a7a98" opacity="0.6" transform="rotate(0 498.9 204.5)"/>
<ellipse cx="478.9" cy="215.4" rx="0.55" ry="0.55" fill="#7a7a98" opacity="0.6" transform="rotate(0 478.9 215.4)"/>
<ellipse cx="487.5" cy="191.7" rx="0.55" ry="0.55" fill="#8a7a98" opacity="0.6" transform="rotate(0 487.5 191.7)"/>
<ellipse cx="478.5" cy="193.1" rx="0.55" ry="0.55" fill="#9a9ab0" opacity="0.6" transform="rotate(0 478.5 193.1)"/>
<ellipse cx="487.5" cy="208.5" rx="0.55" ry="0.55" fill="#6a5a80" opacity="0.6" transform="rotate(0 487.5 208.5)"/>
<ellipse cx="480.9" cy="219.9" rx="0.55" ry="0.55" fill="#9a9ab0" opacity="0.6" transform="rotate(0 480.9 219.9)"/>
<ellipse cx="479.5" cy="201.9" rx="0.55" ry="0.55" fill="#6a5a80" opacity="0.6" transform="rotate(0 479.5 201.9)"/>
<ellipse cx="494.2" cy="191.1" rx="0.55" ry="0.55" fill="#6a5a80" opacity="0.6" transform="rotate(0 494.2 191.1)"/>
<ellipse cx="492.7" cy="189.5" rx="0.55" ry="0.55" fill="#9a9ab0" opacity="0.6" transform="rotate(0 492.7 189.5)"/>
<ellipse cx="497.8" cy="193.7" rx="0.55" ry="0.55" fill="#8a7a98" opacity="0.6" transform="rotate(0 497.8 193.7)"/>
<ellipse cx="488.8" cy="212.3" rx="0.55" ry="0.55" fill="#9a9ab0" opacity="0.6" transform="rotate(0 488.8 212.3)"/>
<ellipse cx="491.3" cy="205.0" rx="0.55" ry="0.55" fill="#8a7a98" opacity="0.6" transform="rotate(0 491.3 205.0)"/>
<ellipse cx="495.3" cy="214.0" rx="0.55" ry="0.55" fill="#8a7a98" opacity="0.6" transform="rotate(0 495.3 214.0)"/>
<ellipse cx="480.8" cy="199.7" rx="0.55" ry="0.55" fill="#6a5a80" opacity="0.6" transform="rotate(0 480.8 199.7)"/>
<ellipse cx="499.8" cy="212.8" rx="0.55" ry="0.55" fill="#7a7a98" opacity="0.6" transform="rotate(0 499.8 212.8)"/>
<ellipse cx="482.2" cy="208.5" rx="0.55" ry="0.55" fill="#9a9ab0" opacity="0.6" transform="rotate(0 482.2 208.5)"/>
<ellipse cx="486.7" cy="219.2" rx="0.55" ry="0.55" fill="#9a9ab0" opacity="0.6" transform="rotate(0 486.7 219.2)"/>
<ellipse cx="498.9" cy="194.0" rx="0.55" ry="0.55" fill="#8a7a98" opacity="0.6" transform="rotate(0 498.9 194.0)"/>
<ellipse cx="478.5" cy="198.7" rx="0.55" ry="0.55" fill="#9a9ab0" opacity="0.6" transform="rotate(0 478.5 198.7)"/>
<ellipse cx="480.9" cy="205.5" rx="0.55" ry="0.55" fill="#6a5a80" opacity="0.6" transform="rotate(0 480.9 205.5)"/>
<ellipse cx="487.5" cy="206.7" rx="0.55" ry="0.55" fill="#6a5a80" opacity="0.6" transform="rotate(0 487.5 206.7)"/>
<ellipse cx="496.0" cy="183.3" rx="0.55" ry="0.55" fill="#7a7a98" opacity="0.6" transform="rotate(0 496.0 183.3)"/>
<ellipse cx="494.8" cy="211.0" rx="0.55" ry="0.55" fill="#7a7a98" opacity="0.6" transform="rotate(0 494.8 211.0)"/>
<ellipse cx="497.3" cy="197.1" rx="0.55" ry="0.55" fill="#9a9ab0" opacity="0.6" transform="rotate(0 497.3 197.1)"/>
<ellipse cx="478.1" cy="219.6" rx="0.55" ry="0.55" fill="#7a7a98" opacity="0.6" transform="rotate(0 478.1 219.6)"/>
<ellipse cx="487.1" cy="210.7" rx="0.55" ry="0.55" fill="#6a5a80" opacity="0.6" transform="rotate(0 487.1 210.7)"/>
<ellipse cx="493.4" cy="185.5" rx="0.55" ry="0.55" fill="#8a7a98" opacity="0.6" transform="rotate(0 493.4 185.5)"/>
<ellipse cx="476.7" cy="204.0" rx="0.55" ry="0.55" fill="#7a7a98" opacity="0.6" transform="rotate(0 476.7 204.0)"/>
<ellipse cx="495.4" cy="184.4" rx="0.55" ry="0.55" fill="#7a7a98" opacity="0.6" transform="rotate(0 495.4 184.4)"/>
<ellipse cx="491.8" cy="193.4" rx="0.55" ry="0.55" fill="#8a7a98" opacity="0.6" transform="rotate(0 491.8 193.4)"/>
<ellipse cx="476.5" cy="213.2" rx="0.55" ry="0.55" fill="#6a5a80" opacity="0.6" transform="rotate(0 476.5 213.2)"/>
<ellipse cx="488.6" cy="219.1" rx="0.55" ry="0.55" fill="#7a7a98" opacity="0.6" transform="rotate(0 488.6 219.1)"/>
<ellipse cx="479.0" cy="219.2" rx="0.6" ry="0.6" fill="#4a3a60" opacity="0.8" transform="rotate(0 479.0 219.2)"/>
<ellipse cx="478.9" cy="226.3" rx="0.6" ry="0.6" fill="#6a5a80" opacity="0.8" transform="rotate(0 478.9 226.3)"/>
<ellipse cx="460.8" cy="251.6" rx="0.6" ry="0.6" fill="#5a4a70" opacity="0.8" transform="rotate(0 460.8 251.6)"/>
<ellipse cx="437.5" cy="212.7" rx="0.6" ry="0.6" fill="#4a3a60" opacity="0.8" transform="rotate(0 437.5 212.7)"/>
<ellipse cx="476.8" cy="206.2" rx="0.6" ry="0.6" fill="#5a4a70" opacity="0.8" transform="rotate(0 476.8 206.2)"/>
<ellipse cx="447.6" cy="194.4" rx="0.6" ry="0.6" fill="#6a5a80" opacity="0.8" transform="rotate(0 447.6 194.4)"/>
<ellipse cx="439.0" cy="237.1" rx="0.6" ry="0.6" fill="#6a5a80" opacity="0.8" transform="rotate(0 439.0 237.1)"/>
<ellipse cx="472.7" cy="241.3" rx="0.6" ry="0.6" fill="#6a5a80" opacity="0.8" transform="rotate(0 472.7 241.3)"/>
<ellipse cx="480.2" cy="224.9" rx="0.6" ry="0.6" fill="#4a3a60" opacity="0.8" transform="rotate(0 480.2 224.9)"/>
<ellipse cx="442.0" cy="201.6" rx="0.6" ry="0.6" fill="#4a3a60" opacity="0.8" transform="rotate(0 442.0 201.6)"/>
<ellipse cx="469.4" cy="247.4" rx="0.6" ry="0.6" fill="#6a5a80" opacity="0.8" transform="rotate(0 469.4 247.4)"/>
<ellipse cx="473.3" cy="239.6" rx="0.6" ry="0.6" fill="#6a5a80" opacity="0.8" transform="rotate(0 473.3 239.6)"/>
<ellipse cx="438.2" cy="218.1" rx="0.6" ry="0.6" fill="#4a3a60" opacity="0.8" transform="rotate(0 438.2 218.1)"/>
<ellipse cx="473.5" cy="203.8" rx="0.6" ry="0.6" fill="#4a3a60" opacity="0.8" transform="rotate(0 473.5 203.8)"/>
<ellipse cx="455.7" cy="252.5" rx="0.6" ry="0.6" fill="#6a5a80" opacity="0.8" transform="rotate(0 455.7 252.5)"/>
<ellipse cx="441.6" cy="229.2" rx="0.6" ry="0.6" fill="#4a3a60" opacity="0.8" transform="rotate(0 441.6 229.2)"/>
<ellipse cx="439.1" cy="232.1" rx="0.6" ry="0.6" fill="#6a5a80" opacity="0.8" transform="rotate(0 439.1 232.1)"/>
<ellipse cx="444.1" cy="204.6" rx="0.6" ry="0.6" fill="#5a4a70" opacity="0.8" transform="rotate(0 444.1 204.6)"/>
<ellipse cx="439.1" cy="230.3" rx="0.6" ry="0.6" fill="#5a4a70" opacity="0.8" transform="rotate(0 439.1 230.3)"/>
<ellipse cx="439.6" cy="220.1" rx="0.6" ry="0.6" fill="#6a5a80" opacity="0.8" transform="rotate(0 439.6 220.1)"/>
<ellipse cx="476.2" cy="198.6" rx="0.6" ry="0.6" fill="#5a4a70" opacity="0.8" transform="rotate(0 476.2 198.6)"/>
<ellipse cx="480.0" cy="206.4" rx="0.6" ry="0.6" fill="#4a3a60" opacity="0.8" transform="rotate(0 480.0 206.4)"/>
<ellipse cx="469.9" cy="198.7" rx="0.6" ry="0.6" fill="#4a3a60" opacity="0.8" transform="rotate(0 469.9 198.7)"/>
<ellipse cx="443.7" cy="239.2" rx="0.6" ry="0.6" fill="#6a5a80" opacity="0.8" transform="rotate(0 443.7 239.2)"/>
<ellipse cx="460.6" cy="247.9" rx="0.6" ry="0.6" fill="#6a5a80" opacity="0.8" transform="rotate(0 460.6 247.9)"/>
<ellipse cx="453.2" cy="246.9" rx="0.6" ry="0.6" fill="#4a3a60" opacity="0.8" transform="rotate(0 453.2 246.9)"/>
<ellipse cx="479.9" cy="210.2" rx="0.6" ry="0.6" fill="#5a4a70" opacity="0.8" transform="rotate(0 479.9 210.2)"/>
<ellipse cx="473.9" cy="246.8" rx="0.6" ry="0.6" fill="#5a4a70" opacity="0.8" transform="rotate(0 473.9 246.8)"/>
<ellipse cx="464.0" cy="253.7" rx="0.6" ry="0.6" fill="#5a4a70" opacity="0.8" transform="rotate(0 464.0 253.7)"/>
<ellipse cx="474.1" cy="203.5" rx="0.6" ry="0.6" fill="#6a5a80" opacity="0.8" transform="rotate(0 474.1 203.5)"/>
<ellipse cx="469.1" cy="197.9" rx="0.6" ry="0.6" fill="#5a4a70" opacity="0.8" transform="rotate(0 469.1 197.9)"/>
<ellipse cx="480.2" cy="220.4" rx="0.6" ry="0.6" fill="#5a4a70" opacity="0.8" transform="rotate(0 480.2 220.4)"/>
<ellipse cx="466.3" cy="248.1" rx="0.6" ry="0.6" fill="#6a5a80" opacity="0.8" transform="rotate(0 466.3 248.1)"/>
<ellipse cx="445.9" cy="242.7" rx="0.6" ry="0.6" fill="#5a4a70" opacity="0.8" transform="rotate(0 445.9 242.7)"/>
<ellipse cx="442.1" cy="231.0" rx="0.6" ry="0.6" fill="#5a4a70" opacity="0.8" transform="rotate(0 442.1 231.0)"/>
<ellipse cx="439.5" cy="218.4" rx="0.6" ry="0.6" fill="#4a3a60" opacity="0.8" transform="rotate(0 439.5 218.4)"/>
<ellipse cx="477.2" cy="242.7" rx="0.6" ry="0.6" fill="#4a3a60" opacity="0.8" transform="rotate(0 477.2 242.7)"/>
<ellipse cx="478.4" cy="216.8" rx="0.6" ry="0.6" fill="#5a4a70" opacity="0.8" transform="rotate(0 478.4 216.8)"/>
<ellipse cx="456.3" cy="253.6" rx="0.6" ry="0.6" fill="#4a3a60" opacity="0.8" transform="rotate(0 456.3 253.6)"/>
<ellipse cx="457.0" cy="248.2" rx="0.6" ry="0.6" fill="#5a4a70" opacity="0.8" transform="rotate(0 457.0 248.2)"/>
<g filter="url(#soft)"><path d="M476.2,227.8 L474.7,233.3 L471.3,237.5 L468.0,242.0 L463.9,245.5 L459.4,247.2 L454.8,248.6 L451.1,245.8 L447.3,244.1 L444.4,240.7 L442.3,236.6 L441.9,231.3 L442.2,226.1 L440.8,221.0 L441.3,215.0 L443.5,209.3 L447.7,205.3 L451.9,202.4 L455.7,198.3 L460.1,198.4 L464.4,197.4 L468.2,198.8 L471.7,200.6 L475.7,202.3 L477.5,206.9 L479.9,211.2 L481.4,216.5 L479.0,222.6Z" fill="#b02c5e"/>
<circle cx="458.0" cy="231.1" r="0.66" fill="#c03868" opacity="0.93"/>
<circle cx="477.5" cy="217.0" r="0.79" fill="#a82858" opacity="0.92"/>
<circle cx="454.4" cy="210.4" r="1.15" fill="#8a1848" opacity="0.77"/>
<circle cx="475.0" cy="203.0" r="0.78" fill="#902050" opacity="0.72"/>
<circle cx="453.6" cy="218.5" r="1.06" fill="#8a1848" opacity="0.62"/>
<circle cx="456.4" cy="215.2" r="0.94" fill="#d04870" opacity="0.66"/>
<circle cx="471.4" cy="198.5" r="0.54" fill="#a82858" opacity="0.78"/>
<circle cx="445.0" cy="234.3" r="0.87" fill="#c84060" opacity="0.66"/>
<circle cx="455.7" cy="235.8" r="0.59" fill="#b83060" opacity="0.89"/>
<circle cx="448.1" cy="208.6" r="0.99" fill="#a82858" opacity="0.65"/>
<circle cx="474.1" cy="229.5" r="0.75" fill="#b83060" opacity="0.64"/>
<circle cx="468.2" cy="231.9" r="1.08" fill="#902050" opacity="0.95"/>
<circle cx="476.6" cy="229.8" r="0.82" fill="#c03868" opacity="0.83"/>
<circle cx="458.7" cy="207.4" r="1.02" fill="#a82858" opacity="0.53"/>
<circle cx="453.5" cy="238.5" r="0.60" fill="#a82858" opacity="0.78"/>
<circle cx="477.2" cy="206.1" r="0.85" fill="#a82858" opacity="0.53"/>
<circle cx="463.4" cy="203.0" r="1.24" fill="#a82858" opacity="0.94"/>
<circle cx="458.4" cy="220.6" r="1.08" fill="#6a2070" opacity="0.62"/>
<circle cx="451.5" cy="241.3" r="0.59" fill="#c84060" opacity="0.93"/>
<circle cx="464.3" cy="223.4" r="0.77" fill="#781040" opacity="0.72"/>
<circle cx="459.5" cy="224.4" r="0.90" fill="#781040" opacity="0.85"/>
<circle cx="466.1" cy="235.0" r="1.03" fill="#902050" opacity="0.66"/>
<circle cx="471.0" cy="213.6" r="0.89" fill="#902050" opacity="0.93"/>
<circle cx="459.9" cy="203.8" r="1.18" fill="#6a2070" opacity="0.75"/>
<circle cx="447.8" cy="227.1" r="0.87" fill="#c84060" opacity="0.79"/>
<circle cx="473.2" cy="218.1" r="1.02" fill="#d04870" opacity="0.66"/>
<circle cx="475.8" cy="228.6" r="0.92" fill="#a82858" opacity="0.59"/>
<circle cx="448.5" cy="237.5" r="0.73" fill="#781040" opacity="0.82"/>
<circle cx="473.9" cy="208.6" r="1.12" fill="#c84060" opacity="0.80"/>
<circle cx="454.7" cy="226.9" r="1.12" fill="#902050" opacity="0.82"/>
<circle cx="455.0" cy="228.5" r="0.68" fill="#a82858" opacity="0.78"/>
<circle cx="444.0" cy="214.4" r="0.68" fill="#8a1848" opacity="0.90"/>
<circle cx="458.3" cy="224.0" r="0.83" fill="#b83060" opacity="0.67"/>
<circle cx="462.2" cy="227.7" r="0.69" fill="#b83060" opacity="0.50"/>
<circle cx="460.4" cy="209.6" r="0.83" fill="#781040" opacity="0.81"/>
<circle cx="453.1" cy="245.4" r="0.94" fill="#902050" opacity="0.54"/>
<circle cx="464.3" cy="214.4" r="0.96" fill="#b83060" opacity="0.87"/>
<circle cx="451.3" cy="236.2" r="1.01" fill="#b83060" opacity="0.71"/>
<circle cx="449.7" cy="211.5" r="0.88" fill="#c03868" opacity="0.94"/>
<circle cx="466.4" cy="215.8" r="1.21" fill="#8a1848" opacity="0.67"/>
<circle cx="446.1" cy="240.1" r="0.93" fill="#b83060" opacity="0.78"/>
<circle cx="476.0" cy="220.7" r="0.85" fill="#c03868" opacity="0.72"/>
<circle cx="455.3" cy="231.8" r="0.81" fill="#a82858" opacity="0.77"/>
<circle cx="461.2" cy="217.6" r="0.76" fill="#902050" opacity="0.72"/>
<circle cx="452.6" cy="217.9" r="0.60" fill="#6a2070" opacity="0.61"/>
<circle cx="456.3" cy="219.4" r="0.95" fill="#c03868" opacity="0.92"/>
<circle cx="474.4" cy="212.9" r="0.71" fill="#a82858" opacity="0.82"/>
<circle cx="452.3" cy="218.6" r="1.29" fill="#c84060" opacity="0.79"/>
<circle cx="459.1" cy="235.2" r="0.59" fill="#a82858" opacity="0.64"/>
<circle cx="463.9" cy="214.1" r="0.74" fill="#c84060" opacity="0.51"/>
<circle cx="451.2" cy="228.8" r="1.15" fill="#a82858" opacity="0.52"/>
<circle cx="451.8" cy="216.4" r="1.23" fill="#c84060" opacity="0.59"/>
<circle cx="451.8" cy="236.1" r="0.98" fill="#6a2070" opacity="0.89"/>
<circle cx="472.4" cy="225.0" r="1.05" fill="#c03868" opacity="0.90"/>
<circle cx="453.9" cy="234.1" r="0.74" fill="#8a1848" opacity="0.81"/>
<circle cx="461.3" cy="210.4" r="1.12" fill="#902050" opacity="0.56"/>
<circle cx="458.1" cy="223.9" r="0.90" fill="#b83060" opacity="0.74"/>
<circle cx="456.4" cy="222.9" r="0.54" fill="#c03868" opacity="0.62"/>
<circle cx="478.6" cy="219.3" r="0.84" fill="#781040" opacity="0.95"/>
<circle cx="475.1" cy="202.1" r="1.17" fill="#c03868" opacity="0.78"/>
<circle cx="468.3" cy="221.4" r="0.65" fill="#a82858" opacity="0.69"/>
<circle cx="445.5" cy="223.5" r="0.53" fill="#781040" opacity="0.80"/>
<circle cx="472.5" cy="214.1" r="0.96" fill="#781040" opacity="0.83"/>
<circle cx="460.7" cy="211.7" r="0.98" fill="#6a2070" opacity="0.66"/>
<circle cx="457.9" cy="244.3" r="0.61" fill="#902050" opacity="0.57"/>
<circle cx="464.4" cy="223.8" r="1.23" fill="#c84060" opacity="0.75"/>
<circle cx="444.4" cy="234.8" r="0.73" fill="#a82858" opacity="0.86"/>
<circle cx="473.6" cy="224.2" r="0.81" fill="#a82858" opacity="0.82"/>
<circle cx="472.8" cy="203.3" r="1.03" fill="#781040" opacity="0.89"/>
<circle cx="460.9" cy="219.6" r="0.81" fill="#6a2070" opacity="0.72"/>
<circle cx="448.2" cy="234.2" r="0.52" fill="#d04870" opacity="0.52"/>
<circle cx="471.2" cy="210.5" r="0.59" fill="#6a2070" opacity="0.87"/>
<circle cx="444.7" cy="223.3" r="0.78" fill="#c03868" opacity="0.63"/>
<circle cx="471.5" cy="237.5" r="1.14" fill="#d04870" opacity="0.56"/>
<circle cx="468.9" cy="233.4" r="1.14" fill="#d04870" opacity="0.93"/>
<circle cx="463.2" cy="197.1" r="1.29" fill="#c03868" opacity="0.83"/>
<circle cx="463.3" cy="200.5" r="0.53" fill="#c03868" opacity="0.59"/>
<circle cx="451.6" cy="243.3" r="1.03" fill="#b83060" opacity="0.50"/>
<circle cx="451.7" cy="240.7" r="1.00" fill="#d04870" opacity="0.65"/>
<circle cx="464.0" cy="206.1" r="1.02" fill="#781040" opacity="0.67"/>
<circle cx="448.9" cy="239.1" r="0.62" fill="#902050" opacity="0.55"/>
<circle cx="466.6" cy="238.3" r="1.04" fill="#8a1848" opacity="0.72"/>
<circle cx="447.2" cy="241.8" r="1.05" fill="#6a2070" opacity="0.71"/>
<circle cx="469.6" cy="213.7" r="1.04" fill="#a82858" opacity="0.52"/>
<circle cx="466.1" cy="228.3" r="1.03" fill="#d04870" opacity="0.91"/>
<circle cx="463.9" cy="233.4" r="0.65" fill="#b83060" opacity="0.63"/>
<circle cx="464.2" cy="235.6" r="0.63" fill="#c03868" opacity="0.58"/>
<circle cx="459.6" cy="234.4" r="0.72" fill="#6a2070" opacity="0.53"/>
<circle cx="471.4" cy="221.0" r="0.54" fill="#c84060" opacity="0.88"/>
<circle cx="470.7" cy="229.4" r="1.25" fill="#781040" opacity="0.61"/>
<circle cx="455.5" cy="230.5" r="1.02" fill="#6a2070" opacity="0.68"/>
<circle cx="460.0" cy="211.0" r="0.54" fill="#8a1848" opacity="0.93"/>
<circle cx="445.4" cy="227.5" r="1.01" fill="#c03868" opacity="0.74"/>
<circle cx="448.3" cy="207.2" r="0.59" fill="#c84060" opacity="0.94"/>
<circle cx="465.8" cy="231.0" r="0.85" fill="#b83060" opacity="0.72"/>
<circle cx="464.6" cy="216.6" r="1.00" fill="#8a1848" opacity="0.91"/>
<circle cx="453.9" cy="216.8" r="1.16" fill="#c03868" opacity="0.75"/>
<circle cx="447.2" cy="216.3" r="1.12" fill="#902050" opacity="0.87"/>
<circle cx="459.8" cy="201.1" r="0.57" fill="#c03868" opacity="0.81"/>
<circle cx="469.8" cy="212.9" r="0.89" fill="#c03868" opacity="0.52"/>
<circle cx="453.0" cy="207.3" r="0.80" fill="#781040" opacity="0.53"/>
<circle cx="471.6" cy="219.4" r="1.12" fill="#8a1848" opacity="0.90"/>
<circle cx="460.6" cy="236.6" r="0.96" fill="#6a2070" opacity="0.56"/>
<circle cx="461.4" cy="238.1" r="0.51" fill="#8a1848" opacity="0.82"/>
<circle cx="445.9" cy="234.2" r="0.81" fill="#a82858" opacity="0.64"/>
<circle cx="459.4" cy="201.4" r="0.90" fill="#b83060" opacity="0.63"/>
<circle cx="470.3" cy="199.2" r="0.54" fill="#a82858" opacity="0.87"/>
<circle cx="461.9" cy="209.0" r="1.26" fill="#8a1848" opacity="0.60"/>
<circle cx="459.7" cy="214.1" r="0.76" fill="#8a1848" opacity="0.57"/>
<circle cx="470.1" cy="206.7" r="1.29" fill="#902050" opacity="0.74"/>
<circle cx="444.3" cy="227.9" r="0.86" fill="#d04870" opacity="0.86"/>
<circle cx="449.5" cy="207.8" r="1.23" fill="#6a2070" opacity="0.77"/>
<circle cx="471.9" cy="207.2" r="0.88" fill="#6a2070" opacity="0.77"/>
<circle cx="465.0" cy="198.6" r="1.28" fill="#8a1848" opacity="0.91"/>
<circle cx="446.7" cy="228.5" r="0.78" fill="#6a2070" opacity="0.60"/>
<circle cx="457.2" cy="204.1" r="0.95" fill="#b83060" opacity="0.84"/>
<circle cx="472.4" cy="218.9" r="1.15" fill="#8a1848" opacity="0.78"/>
<circle cx="462.7" cy="202.9" r="1.17" fill="#6a2070" opacity="0.67"/>
<circle cx="447.2" cy="211.4" r="1.10" fill="#902050" opacity="0.91"/>
<circle cx="443.7" cy="232.6" r="0.76" fill="#6a2070" opacity="0.89"/>
<circle cx="458.8" cy="238.3" r="0.80" fill="#8a1848" opacity="0.55"/>
<circle cx="461.4" cy="229.1" r="1.15" fill="#8a1848" opacity="0.64"/>
<circle cx="456.1" cy="219.1" r="1.06" fill="#d04870" opacity="0.70"/>
<circle cx="468.6" cy="229.5" r="1.25" fill="#c84060" opacity="0.80"/>
<circle cx="455.7" cy="237.0" r="0.79" fill="#8a1848" opacity="0.81"/>
<circle cx="464.5" cy="211.4" r="0.56" fill="#781040" opacity="0.85"/>
<circle cx="457.2" cy="241.2" r="1.25" fill="#d04870" opacity="0.64"/>
<circle cx="479.2" cy="216.2" r="1.07" fill="#781040" opacity="0.52"/>
<circle cx="455.4" cy="211.9" r="1.14" fill="#c84060" opacity="0.59"/>
<circle cx="453.3" cy="241.6" r="0.69" fill="#c84060" opacity="0.69"/>
<circle cx="473.4" cy="236.4" r="0.80" fill="#c84060" opacity="0.90"/>
<circle cx="472.4" cy="232.7" r="0.81" fill="#781040" opacity="0.88"/>
<circle cx="470.3" cy="236.2" r="1.29" fill="#c03868" opacity="0.90"/>
<circle cx="453.1" cy="208.5" r="0.71" fill="#781040" opacity="0.90"/>
<circle cx="445.6" cy="224.1" r="1.11" fill="#c03868" opacity="0.80"/>
<circle cx="460.0" cy="229.0" r="1.01" fill="#c84060" opacity="0.83"/>
<circle cx="458.2" cy="217.0" r="0.92" fill="#c03868" opacity="0.64"/>
<circle cx="450.1" cy="224.2" r="1.27" fill="#a82858" opacity="0.69"/>
<circle cx="451.0" cy="207.1" r="0.94" fill="#a82858" opacity="0.70"/>
<circle cx="460.8" cy="199.9" r="1.13" fill="#b83060" opacity="0.83"/>
<circle cx="444.4" cy="215.4" r="1.17" fill="#781040" opacity="0.64"/>
<circle cx="469.7" cy="233.5" r="1.24" fill="#c03868" opacity="0.90"/>
<circle cx="458.5" cy="238.0" r="1.17" fill="#8a1848" opacity="0.59"/>
<circle cx="445.3" cy="223.0" r="0.58" fill="#6a2070" opacity="0.83"/>
<circle cx="465.6" cy="240.9" r="1.07" fill="#c84060" opacity="0.93"/>
<circle cx="455.9" cy="246.4" r="0.58" fill="#781040" opacity="0.87"/>
<circle cx="452.1" cy="209.2" r="0.64" fill="#781040" opacity="0.61"/>
<circle cx="476.2" cy="225.8" r="0.50" fill="#b83060" opacity="0.56"/>
<circle cx="449.8" cy="231.7" r="0.89" fill="#902050" opacity="0.51"/>
<circle cx="474.2" cy="210.0" r="0.77" fill="#a82858" opacity="0.63"/>
<circle cx="456.2" cy="231.5" r="1.13" fill="#781040" opacity="0.63"/>
<circle cx="447.7" cy="236.9" r="0.92" fill="#8a1848" opacity="0.60"/>
<circle cx="474.0" cy="207.1" r="1.27" fill="#c84060" opacity="0.71"/>
<circle cx="476.3" cy="230.1" r="0.81" fill="#c03868" opacity="0.54"/>
<circle cx="449.1" cy="235.3" r="0.50" fill="#a82858" opacity="0.66"/>
<circle cx="460.4" cy="215.5" r="0.91" fill="#8a1848" opacity="0.94"/>
<circle cx="443.4" cy="232.8" r="0.51" fill="#c84060" opacity="0.54"/>
<circle cx="466.3" cy="224.6" r="0.54" fill="#d04870" opacity="0.85"/>
<circle cx="453.3" cy="239.6" r="1.25" fill="#8a1848" opacity="0.60"/>
<circle cx="453.0" cy="231.8" r="1.15" fill="#d04870" opacity="0.91"/>
<circle cx="461.9" cy="244.5" r="0.62" fill="#c03868" opacity="0.69"/>
<circle cx="451.1" cy="214.2" r="0.72" fill="#6a2070" opacity="0.66"/>
<circle cx="464.8" cy="238.1" r="0.56" fill="#d04870" opacity="0.52"/>
<circle cx="462.9" cy="203.3" r="1.02" fill="#6a2070" opacity="0.93"/>
<circle cx="469.9" cy="205.1" r="0.69" fill="#b83060" opacity="0.92"/>
<circle cx="461.5" cy="209.3" r="1.10" fill="#b83060" opacity="0.65"/>
<circle cx="453.3" cy="207.9" r="1.22" fill="#c84060" opacity="0.54"/>
<circle cx="443.3" cy="223.8" r="0.80" fill="#b83060" opacity="0.91"/>
<circle cx="462.5" cy="219.6" r="1.20" fill="#a82858" opacity="0.62"/>
<circle cx="457.3" cy="233.8" r="0.61" fill="#6a2070" opacity="0.80"/>
<circle cx="454.3" cy="204.8" r="1.07" fill="#c03868" opacity="0.86"/>
<circle cx="444.0" cy="216.1" r="0.53" fill="#d04870" opacity="0.90"/>
<circle cx="468.6" cy="228.2" r="0.85" fill="#781040" opacity="0.79"/>
<circle cx="477.3" cy="220.9" r="0.92" fill="#d04870" opacity="0.94"/>
<circle cx="458.7" cy="202.7" r="1.25" fill="#781040" opacity="0.79"/>
<circle cx="471.3" cy="203.5" r="0.91" fill="#c84060" opacity="0.67"/>
<circle cx="457.3" cy="218.4" r="0.55" fill="#8a1848" opacity="0.75"/>
<circle cx="450.2" cy="215.7" r="0.55" fill="#781040" opacity="0.55"/>
<circle cx="475.8" cy="220.6" r="0.77" fill="#902050" opacity="0.72"/>
<circle cx="457.0" cy="202.1" r="1.13" fill="#902050" opacity="0.77"/>
<circle cx="470.1" cy="230.8" r="0.95" fill="#b83060" opacity="0.75"/>
<circle cx="471.5" cy="225.7" r="1.20" fill="#8a1848" opacity="0.51"/>
<circle cx="458.2" cy="216.3" r="0.92" fill="#6a2070" opacity="0.78"/>
<circle cx="473.7" cy="204.0" r="0.55" fill="#6a2070" opacity="0.64"/>
<circle cx="459.9" cy="224.2" r="1.17" fill="#902050" opacity="0.55"/>
<circle cx="473.2" cy="213.2" r="0.74" fill="#8a1848" opacity="0.90"/>
<circle cx="450.6" cy="227.3" r="0.90" fill="#d04870" opacity="0.57"/>
<circle cx="453.9" cy="206.4" r="1.26" fill="#c03868" opacity="0.71"/>
<circle cx="465.9" cy="220.5" r="0.91" fill="#d04870" opacity="0.58"/>
<circle cx="447.1" cy="216.7" r="1.05" fill="#6a2070" opacity="0.92"/>
<circle cx="456.3" cy="224.1" r="0.90" fill="#c03868" opacity="0.75"/>
<circle cx="467.0" cy="219.9" r="1.13" fill="#b83060" opacity="0.63"/>
<circle cx="450.2" cy="204.8" r="0.79" fill="#c84060" opacity="0.62"/>
<circle cx="461.9" cy="230.4" r="1.26" fill="#781040" opacity="0.81"/>
<circle cx="476.9" cy="216.0" r="1.10" fill="#a82858" opacity="0.52"/>
<circle cx="478.7" cy="222.2" r="1.01" fill="#902050" opacity="0.54"/>
<circle cx="456.8" cy="209.1" r="0.77" fill="#d04870" opacity="0.53"/>
<circle cx="458.5" cy="203.4" r="1.25" fill="#c84060" opacity="0.68"/>
<circle cx="466.1" cy="200.1" r="0.84" fill="#c84060" opacity="0.63"/>
<circle cx="445.6" cy="217.3" r="1.25" fill="#781040" opacity="0.71"/>
<circle cx="440.8" cy="229.9" r="0.59" fill="#c84060" opacity="0.54"/>
<circle cx="462.4" cy="231.9" r="0.80" fill="#781040" opacity="0.62"/>
<circle cx="453.1" cy="245.9" r="0.84" fill="#c03868" opacity="0.90"/>
<circle cx="471.1" cy="208.0" r="0.65" fill="#c84060" opacity="0.53"/>
<circle cx="446.5" cy="236.9" r="1.01" fill="#902050" opacity="0.70"/>
<circle cx="473.4" cy="230.9" r="0.90" fill="#902050" opacity="0.57"/>
<circle cx="465.2" cy="221.3" r="0.82" fill="#781040" opacity="0.56"/>
<circle cx="445.7" cy="227.6" r="1.08" fill="#781040" opacity="0.70"/>
<circle cx="454.8" cy="206.0" r="1.01" fill="#6a2070" opacity="0.62"/>
<circle cx="455.3" cy="230.1" r="1.14" fill="#6a2070" opacity="0.55"/>
<circle cx="467.1" cy="210.6" r="0.79" fill="#8a1848" opacity="0.74"/>
<circle cx="467.1" cy="208.0" r="0.52" fill="#6a2070" opacity="0.79"/>
<circle cx="452.7" cy="240.1" r="1.24" fill="#902050" opacity="0.77"/>
<circle cx="447.8" cy="205.6" r="0.92" fill="#902050" opacity="0.69"/>
<circle cx="460.7" cy="236.5" r="1.08" fill="#8a1848" opacity="0.72"/>
<circle cx="460.8" cy="210.0" r="1.16" fill="#6a2070" opacity="0.65"/>
<circle cx="468.0" cy="225.1" r="1.07" fill="#8a1848" opacity="0.57"/>
<circle cx="468.6" cy="197.1" r="1.13" fill="#6a2070" opacity="0.88"/>
<circle cx="442.9" cy="217.6" r="0.88" fill="#781040" opacity="0.83"/>
<circle cx="453.9" cy="201.2" r="0.91" fill="#d04870" opacity="0.79"/>
<circle cx="453.1" cy="227.5" r="0.68" fill="#902050" opacity="0.91"/>
<circle cx="454.0" cy="204.9" r="0.55" fill="#c84060" opacity="0.67"/>
<circle cx="467.7" cy="209.2" r="0.58" fill="#c84060" opacity="0.77"/>
<circle cx="470.0" cy="222.4" r="1.05" fill="#8a1848" opacity="0.90"/>
<circle cx="469.8" cy="197.6" r="0.84" fill="#6a2070" opacity="0.51"/>
<circle cx="476.4" cy="205.8" r="0.87" fill="#6a2070" opacity="0.90"/>
<circle cx="462.5" cy="211.0" r="0.56" fill="#6a2070" opacity="0.88"/>
<circle cx="460.0" cy="234.0" r="1.18" fill="#c03868" opacity="0.51"/>
<circle cx="461.3" cy="199.9" r="0.80" fill="#781040" opacity="0.58"/>
<circle cx="464.5" cy="197.4" r="0.55" fill="#c03868" opacity="0.83"/>
<circle cx="461.8" cy="203.8" r="1.26" fill="#d04870" opacity="0.81"/>
<circle cx="451.5" cy="213.3" r="0.86" fill="#d04870" opacity="0.93"/>
<circle cx="451.3" cy="220.1" r="0.66" fill="#902050" opacity="0.84"/>
<circle cx="471.8" cy="221.5" r="1.03" fill="#c84060" opacity="0.90"/>
<circle cx="468.4" cy="221.8" r="0.65" fill="#b83060" opacity="0.76"/>
<circle cx="460.9" cy="242.8" r="0.54" fill="#c84060" opacity="0.94"/>
<circle cx="445.3" cy="224.0" r="1.07" fill="#d04870" opacity="0.66"/>
<circle cx="450.9" cy="206.7" r="0.51" fill="#a82858" opacity="0.82"/>
<circle cx="467.6" cy="222.8" r="1.16" fill="#b83060" opacity="0.83"/>
<circle cx="473.8" cy="226.2" r="0.79" fill="#8a1848" opacity="0.83"/>
<circle cx="448.2" cy="239.2" r="0.71" fill="#6a2070" opacity="0.90"/>
<circle cx="445.3" cy="242.8" r="0.83" fill="#d04870" opacity="0.69"/>
<circle cx="451.9" cy="237.0" r="0.68" fill="#902050" opacity="0.55"/>
<circle cx="455.3" cy="235.7" r="0.89" fill="#781040" opacity="0.80"/>
<circle cx="470.5" cy="203.0" r="1.08" fill="#d04870" opacity="0.58"/>
<circle cx="449.6" cy="233.2" r="0.53" fill="#781040" opacity="0.92"/>
<circle cx="469.0" cy="240.0" r="1.20" fill="#781040" opacity="0.52"/>
<circle cx="460.8" cy="220.5" r="0.85" fill="#a82858" opacity="0.69"/>
<circle cx="462.6" cy="226.9" r="1.28" fill="#c84060" opacity="0.61"/>
<circle cx="459.7" cy="198.8" r="0.74" fill="#d04870" opacity="0.63"/>
<circle cx="448.2" cy="208.9" r="1.26" fill="#781040" opacity="0.94"/>
<circle cx="475.6" cy="219.5" r="0.58" fill="#b83060" opacity="0.54"/>
<circle cx="475.8" cy="218.0" r="1.05" fill="#6a2070" opacity="0.82"/>
<circle cx="473.4" cy="232.1" r="1.21" fill="#902050" opacity="0.62"/>
<circle cx="471.2" cy="226.1" r="0.78" fill="#c84060" opacity="0.54"/>
<circle cx="453.3" cy="240.9" r="0.83" fill="#c03868" opacity="0.78"/>
<circle cx="457.8" cy="216.9" r="0.61" fill="#6a2070" opacity="0.65"/>
<circle cx="449.1" cy="242.5" r="0.59" fill="#8a1848" opacity="0.70"/>
<circle cx="441.3" cy="229.4" r="1.22" fill="#781040" opacity="0.92"/>
<circle cx="456.2" cy="208.9" r="0.85" fill="#c03868" opacity="0.52"/>
<circle cx="464.3" cy="204.5" r="0.77" fill="#c84060" opacity="0.75"/>
<circle cx="456.7" cy="218.8" r="0.87" fill="#8a1848" opacity="0.58"/>
<circle cx="462.1" cy="212.5" r="1.00" fill="#781040" opacity="0.70"/>
<circle cx="444.2" cy="239.7" r="0.77" fill="#781040" opacity="0.68"/>
<circle cx="442.2" cy="229.2" r="1.08" fill="#6a2070" opacity="0.66"/>
<circle cx="458.7" cy="204.3" r="0.62" fill="#c84060" opacity="0.70"/>
<circle cx="468.3" cy="233.8" r="0.69" fill="#6a2070" opacity="0.89"/>
<circle cx="445.0" cy="219.5" r="0.58" fill="#b83060" opacity="0.78"/>
<circle cx="443.6" cy="215.9" r="0.72" fill="#c84060" opacity="0.59"/>
<circle cx="457.1" cy="210.4" r="0.79" fill="#8a1848" opacity="0.51"/>
<circle cx="451.9" cy="201.7" r="1.29" fill="#902050" opacity="0.55"/>
<circle cx="471.6" cy="233.6" r="1.12" fill="#b83060" opacity="0.85"/>
<circle cx="457.0" cy="202.3" r="0.72" fill="#781040" opacity="0.68"/>
<circle cx="467.1" cy="239.4" r="0.88" fill="#c03868" opacity="0.88"/>
<circle cx="463.8" cy="236.2" r="1.23" fill="#c84060" opacity="0.60"/>
<circle cx="472.9" cy="204.0" r="0.89" fill="#902050" opacity="0.50"/>
<circle cx="442.9" cy="229.2" r="1.24" fill="#b83060" opacity="0.67"/>
<circle cx="476.3" cy="227.1" r="1.17" fill="#8a1848" opacity="0.77"/>
<circle cx="455.4" cy="214.2" r="0.75" fill="#c03868" opacity="0.88"/>
<circle cx="473.8" cy="215.4" r="0.62" fill="#8a1848" opacity="0.77"/>
<circle cx="469.5" cy="202.3" r="0.69" fill="#d04870" opacity="0.80"/>
<circle cx="466.7" cy="212.1" r="1.08" fill="#c03868" opacity="0.84"/>
<circle cx="446.1" cy="222.7" r="0.99" fill="#6a2070" opacity="0.60"/>
<circle cx="461.1" cy="211.4" r="0.70" fill="#a82858" opacity="0.77"/>
<circle cx="467.8" cy="233.1" r="1.04" fill="#b83060" opacity="0.76"/>
<circle cx="454.0" cy="200.6" r="1.13" fill="#d04870" opacity="0.63"/>
<circle cx="456.9" cy="226.4" r="1.02" fill="#a82858" opacity="0.59"/>
<circle cx="459.2" cy="228.9" r="1.09" fill="#8a1848" opacity="0.91"/>
<circle cx="447.6" cy="219.9" r="0.66" fill="#a82858" opacity="0.62"/>
<circle cx="475.6" cy="214.7" r="1.01" fill="#902050" opacity="0.81"/>
<circle cx="472.9" cy="199.7" r="0.68" fill="#902050" opacity="0.86"/>
<circle cx="449.9" cy="235.5" r="0.55" fill="#d04870" opacity="0.72"/>
<circle cx="444.3" cy="225.5" r="1.08" fill="#6a2070" opacity="0.92"/>
<circle cx="454.4" cy="225.3" r="0.66" fill="#902050" opacity="0.65"/>
<circle cx="468.7" cy="217.7" r="0.99" fill="#a82858" opacity="0.92"/>
<circle cx="463.4" cy="234.9" r="1.06" fill="#c03868" opacity="0.75"/>
<circle cx="467.1" cy="233.4" r="0.73" fill="#c03868" opacity="0.69"/>
<circle cx="452.8" cy="238.9" r="0.64" fill="#6a2070" opacity="0.72"/>
<circle cx="457.1" cy="228.2" r="0.69" fill="#c03868" opacity="0.65"/>
<circle cx="440.0" cy="230.1" r="1.02" fill="#c84060" opacity="0.79"/>
<circle cx="472.7" cy="206.3" r="0.59" fill="#8a1848" opacity="0.87"/>
<circle cx="445.6" cy="212.5" r="1.23" fill="#781040" opacity="0.84"/>
<circle cx="449.0" cy="233.0" r="0.93" fill="#c84060" opacity="0.79"/>
<circle cx="469.0" cy="237.1" r="1.28" fill="#6a2070" opacity="0.73"/>
<circle cx="448.6" cy="232.9" r="0.97" fill="#8a1848" opacity="0.72"/>
<circle cx="479.1" cy="216.4" r="0.74" fill="#c03868" opacity="0.70"/>
<circle cx="444.4" cy="216.0" r="1.24" fill="#c03868" opacity="0.65"/>
<circle cx="453.7" cy="211.9" r="0.50" fill="#781040" opacity="0.86"/>
<circle cx="454.3" cy="207.9" r="0.69" fill="#b83060" opacity="0.84"/>
<circle cx="466.3" cy="210.3" r="0.93" fill="#902050" opacity="0.52"/>
<circle cx="459.2" cy="242.0" r="0.58" fill="#902050" opacity="0.84"/>
<circle cx="454.6" cy="240.8" r="0.75" fill="#a82858" opacity="0.52"/>
<circle cx="475.3" cy="223.2" r="0.50" fill="#902050" opacity="0.88"/>
<circle cx="462.7" cy="216.8" r="0.57" fill="#781040" opacity="0.50"/>
<circle cx="453.5" cy="217.6" r="1.23" fill="#a82858" opacity="0.66"/>
<circle cx="453.0" cy="215.8" r="1.27" fill="#8a1848" opacity="0.70"/>
<circle cx="445.0" cy="241.5" r="0.88" fill="#902050" opacity="0.73"/>
<circle cx="444.4" cy="220.8" r="1.01" fill="#c84060" opacity="0.78"/>
<circle cx="457.5" cy="230.7" r="1.04" fill="#c84060" opacity="0.73"/>
<circle cx="445.4" cy="228.4" r="0.52" fill="#d04870" opacity="0.69"/>
<circle cx="476.8" cy="226.2" r="0.95" fill="#b83060" opacity="0.91"/>
<circle cx="456.1" cy="205.2" r="0.89" fill="#902050" opacity="0.53"/>
<circle cx="466.3" cy="212.5" r="1.07" fill="#8a1848" opacity="0.80"/>
<circle cx="466.7" cy="199.3" r="0.64" fill="#c03868" opacity="0.69"/>
<circle cx="470.1" cy="230.8" r="0.67" fill="#c03868" opacity="0.81"/>
<circle cx="470.9" cy="221.9" r="0.68" fill="#6a2070" opacity="0.76"/>
<circle cx="473.8" cy="223.8" r="0.63" fill="#b83060" opacity="0.72"/>
<circle cx="477.2" cy="216.8" r="1.28" fill="#b83060" opacity="0.80"/>
<circle cx="452.9" cy="225.3" r="1.28" fill="#c03868" opacity="0.53"/>
<circle cx="449.1" cy="226.6" r="1.23" fill="#c84060" opacity="0.52"/>
<circle cx="457.2" cy="212.2" r="0.64" fill="#c03868" opacity="0.67"/>
<circle cx="454.8" cy="225.8" r="0.84" fill="#c03868" opacity="0.77"/>
<circle cx="463.8" cy="237.4" r="0.99" fill="#6a2070" opacity="0.80"/>
<circle cx="457.0" cy="214.9" r="0.95" fill="#d04870" opacity="0.93"/>
<circle cx="478.6" cy="220.2" r="0.83" fill="#902050" opacity="0.88"/>
<circle cx="456.2" cy="210.8" r="0.68" fill="#8a1848" opacity="0.84"/>
<circle cx="461.1" cy="199.1" r="0.90" fill="#902050" opacity="0.54"/>
<circle cx="450.3" cy="208.8" r="1.06" fill="#a82858" opacity="0.71"/>
<circle cx="476.8" cy="224.6" r="1.13" fill="#8a1848" opacity="0.86"/>
<circle cx="472.9" cy="209.4" r="0.83" fill="#a82858" opacity="0.73"/>
<circle cx="465.9" cy="228.2" r="1.06" fill="#8a1848" opacity="0.88"/>
<circle cx="471.7" cy="229.5" r="1.25" fill="#781040" opacity="0.82"/>
<circle cx="447.1" cy="221.7" r="1.02" fill="#902050" opacity="0.81"/>
<circle cx="451.1" cy="212.8" r="0.63" fill="#6a2070" opacity="0.63"/>
<circle cx="459.7" cy="235.1" r="0.76" fill="#902050" opacity="0.64"/>
<circle cx="454.2" cy="225.8" r="1.12" fill="#c03868" opacity="0.62"/>
<circle cx="461.0" cy="227.7" r="1.28" fill="#781040" opacity="0.88"/>
<circle cx="477.2" cy="227.9" r="0.84" fill="#6a2070" opacity="0.77"/>
<circle cx="450.6" cy="227.2" r="0.71" fill="#c84060" opacity="0.85"/>
<circle cx="469.9" cy="208.4" r="1.26" fill="#781040" opacity="0.72"/>
<circle cx="449.7" cy="225.2" r="0.98" fill="#c03868" opacity="0.84"/>
<circle cx="462.4" cy="202.1" r="1.11" fill="#c03868" opacity="0.91"/>
<circle cx="465.3" cy="200.0" r="1.10" fill="#781040" opacity="0.77"/>
<circle cx="468.6" cy="229.9" r="1.29" fill="#c03868" opacity="0.76"/>
<circle cx="473.7" cy="227.1" r="0.90" fill="#781040" opacity="0.60"/>
<circle cx="459.6" cy="227.7" r="1.23" fill="#6a2070" opacity="0.51"/>
<circle cx="471.0" cy="205.4" r="0.53" fill="#8a1848" opacity="0.69"/>
<circle cx="475.6" cy="232.6" r="0.87" fill="#6a2070" opacity="0.72"/>
<circle cx="474.2" cy="217.3" r="0.78" fill="#d04870" opacity="0.55"/>
<circle cx="459.7" cy="246.6" r="1.09" fill="#8a1848" opacity="0.59"/>
<circle cx="470.2" cy="227.4" r="1.25" fill="#b83060" opacity="0.65"/>
<circle cx="475.5" cy="222.6" r="0.56" fill="#902050" opacity="0.68"/>
<circle cx="443.1" cy="226.0" r="0.56" fill="#c84060" opacity="0.57"/>
<circle cx="455.2" cy="234.4" r="0.78" fill="#c03868" opacity="0.77"/>
<circle cx="442.0" cy="224.4" r="1.28" fill="#902050" opacity="0.62"/>
<circle cx="460.7" cy="244.8" r="0.97" fill="#c03868" opacity="0.89"/>
<circle cx="460.1" cy="201.0" r="0.98" fill="#8a1848" opacity="0.59"/>
<circle cx="472.6" cy="201.1" r="0.50" fill="#b83060" opacity="0.85"/>
<circle cx="459.8" cy="221.4" r="0.86" fill="#781040" opacity="0.80"/>
<circle cx="451.8" cy="223.5" r="0.92" fill="#781040" opacity="0.79"/>
<circle cx="456.3" cy="238.6" r="0.58" fill="#781040" opacity="0.71"/>
<circle cx="465.9" cy="209.3" r="0.87" fill="#8a1848" opacity="0.82"/>
<circle cx="462.3" cy="201.1" r="1.11" fill="#c03868" opacity="0.71"/>
<circle cx="454.1" cy="212.1" r="1.25" fill="#6a2070" opacity="0.76"/>
<circle cx="455.9" cy="203.2" r="1.25" fill="#c03868" opacity="0.56"/>
<circle cx="460.8" cy="229.2" r="0.51" fill="#902050" opacity="0.92"/>
<circle cx="467.8" cy="197.6" r="0.52" fill="#d04870" opacity="0.92"/>
<circle cx="449.6" cy="211.6" r="1.20" fill="#a82858" opacity="0.65"/>
<circle cx="449.1" cy="207.6" r="1.28" fill="#b83060" opacity="0.79"/>
<circle cx="458.4" cy="230.3" r="0.80" fill="#d04870" opacity="0.83"/>
<circle cx="453.9" cy="236.8" r="0.54" fill="#c84060" opacity="0.75"/>
<circle cx="442.2" cy="228.7" r="0.79" fill="#8a1848" opacity="0.89"/>
<circle cx="451.9" cy="240.5" r="0.87" fill="#c84060" opacity="0.57"/>
<circle cx="469.0" cy="234.3" r="1.01" fill="#c03868" opacity="0.82"/>
<circle cx="465.7" cy="197.7" r="0.71" fill="#d04870" opacity="0.60"/>
<circle cx="463.2" cy="236.1" r="0.96" fill="#b83060" opacity="0.81"/>
<circle cx="464.6" cy="229.3" r="1.30" fill="#6a2070" opacity="0.82"/>
<circle cx="451.0" cy="233.7" r="0.56" fill="#902050" opacity="0.87"/>
<circle cx="457.0" cy="239.0" r="0.67" fill="#d04870" opacity="0.95"/>
<circle cx="447.5" cy="208.3" r="1.16" fill="#c84060" opacity="0.95"/>
<circle cx="473.9" cy="213.5" r="1.28" fill="#781040" opacity="0.59"/>
<circle cx="445.8" cy="223.4" r="0.60" fill="#c84060" opacity="0.79"/>
<circle cx="469.2" cy="237.9" r="1.08" fill="#902050" opacity="0.78"/>
<circle cx="450.1" cy="206.2" r="1.29" fill="#6a2070" opacity="0.70"/>
<circle cx="468.1" cy="232.2" r="0.57" fill="#c03868" opacity="0.94"/>
<circle cx="449.1" cy="236.7" r="0.90" fill="#902050" opacity="0.67"/>
<circle cx="459.8" cy="217.3" r="1.24" fill="#a82858" opacity="0.63"/>
<circle cx="454.1" cy="220.2" r="0.63" fill="#d04870" opacity="0.87"/>
<circle cx="464.1" cy="230.8" r="1.00" fill="#d04870" opacity="0.55"/>
<circle cx="477.1" cy="216.6" r="0.52" fill="#6a2070" opacity="0.73"/>
<circle cx="442.6" cy="215.4" r="0.55" fill="#b83060" opacity="0.65"/>
<circle cx="448.1" cy="224.9" r="0.94" fill="#902050" opacity="0.57"/>
<circle cx="440.6" cy="230.1" r="0.78" fill="#b83060" opacity="0.90"/>
<circle cx="448.9" cy="225.0" r="0.65" fill="#a82858" opacity="0.82"/>
<circle cx="449.7" cy="213.8" r="1.01" fill="#c03868" opacity="0.94"/>
<circle cx="456.2" cy="222.0" r="1.19" fill="#a82858" opacity="0.83"/>
<circle cx="460.7" cy="205.0" r="1.12" fill="#c03868" opacity="0.88"/>
<circle cx="474.2" cy="234.0" r="1.28" fill="#8a1848" opacity="0.56"/>
<circle cx="454.0" cy="231.2" r="0.62" fill="#781040" opacity="0.82"/>
<circle cx="461.2" cy="213.0" r="0.63" fill="#c84060" opacity="0.82"/>
<circle cx="468.6" cy="221.6" r="1.01" fill="#b83060" opacity="0.72"/>
<circle cx="472.2" cy="238.0" r="1.25" fill="#a82858" opacity="0.54"/>
<circle cx="449.2" cy="204.5" r="1.19" fill="#c03868" opacity="0.60"/>
<circle cx="464.1" cy="239.1" r="1.08" fill="#d04870" opacity="0.87"/>
<circle cx="457.5" cy="206.7" r="0.51" fill="#a82858" opacity="0.51"/>
<circle cx="476.2" cy="215.1" r="1.24" fill="#781040" opacity="0.70"/>
<circle cx="466.6" cy="208.8" r="0.57" fill="#c84060" opacity="0.89"/>
<circle cx="457.5" cy="242.7" r="0.70" fill="#d04870" opacity="0.68"/>
<circle cx="443.0" cy="232.7" r="0.96" fill="#c03868" opacity="0.91"/>
<circle cx="448.6" cy="219.4" r="0.56" fill="#b83060" opacity="0.79"/>
<circle cx="451.2" cy="237.7" r="0.61" fill="#902050" opacity="0.93"/>
<circle cx="471.1" cy="212.8" r="1.05" fill="#b83060" opacity="0.59"/>
<circle cx="464.4" cy="227.8" r="1.20" fill="#a82858" opacity="0.51"/>
<circle cx="459.6" cy="201.5" r="1.28" fill="#b83060" opacity="0.69"/>
<circle cx="443.7" cy="237.3" r="1.18" fill="#c03868" opacity="0.76"/>
<circle cx="458.0" cy="229.8" r="1.04" fill="#a82858" opacity="0.82"/>
<circle cx="461.4" cy="218.4" r="1.03" fill="#8a1848" opacity="0.80"/>
<circle cx="447.1" cy="231.7" r="0.77" fill="#d04870" opacity="0.59"/>
<circle cx="450.5" cy="243.8" r="1.17" fill="#c84060" opacity="0.67"/>
<circle cx="455.5" cy="209.5" r="0.85" fill="#8a1848" opacity="0.58"/>
<circle cx="450.0" cy="230.9" r="0.86" fill="#902050" opacity="0.73"/>
<circle cx="456.5" cy="215.4" r="0.53" fill="#902050" opacity="0.83"/>
<circle cx="469.8" cy="225.9" r="1.10" fill="#c03868" opacity="0.57"/>
<circle cx="476.7" cy="211.2" r="0.61" fill="#c84060" opacity="0.64"/>
<circle cx="451.5" cy="231.9" r="0.74" fill="#6a2070" opacity="0.88"/>
<circle cx="452.2" cy="207.2" r="0.60" fill="#b83060" opacity="0.61"/>
<circle cx="450.2" cy="214.8" r="0.64" fill="#6a2070" opacity="0.86"/>
<circle cx="456.4" cy="231.5" r="0.68" fill="#a82858" opacity="0.95"/>
<circle cx="467.5" cy="230.8" r="1.10" fill="#c84060" opacity="0.73"/>
<circle cx="473.3" cy="228.8" r="0.84" fill="#a82858" opacity="0.51"/>
<circle cx="464.4" cy="223.0" r="0.86" fill="#902050" opacity="0.78"/>
<circle cx="452.1" cy="241.6" r="1.21" fill="#8a1848" opacity="0.83"/>
<circle cx="473.0" cy="209.7" r="0.89" fill="#902050" opacity="0.89"/>
<circle cx="443.1" cy="229.7" r="0.66" fill="#b83060" opacity="0.88"/>
<circle cx="465.0" cy="197.0" r="0.64" fill="#a82858" opacity="0.82"/>
<circle cx="452.8" cy="224.8" r="0.63" fill="#c03868" opacity="0.85"/>
<circle cx="468.7" cy="228.6" r="0.96" fill="#8a1848" opacity="0.71"/>
<circle cx="447.0" cy="229.0" r="1.11" fill="#a82858" opacity="0.93"/>
<circle cx="465.2" cy="227.3" r="1.05" fill="#a82858" opacity="0.79"/>
<circle cx="459.1" cy="215.5" r="1.28" fill="#6a2070" opacity="0.57"/>
<circle cx="468.6" cy="233.0" r="0.77" fill="#902050" opacity="0.62"/>
<circle cx="467.5" cy="227.9" r="0.97" fill="#8a1848" opacity="0.74"/>
<circle cx="468.7" cy="227.7" r="0.78" fill="#b83060" opacity="0.83"/>
<circle cx="445.3" cy="219.1" r="0.78" fill="#6a2070" opacity="0.91"/>
<circle cx="448.6" cy="217.9" r="1.21" fill="#781040" opacity="0.51"/>
<circle cx="441.4" cy="225.8" r="0.79" fill="#902050" opacity="0.69"/>
<circle cx="447.5" cy="213.4" r="0.91" fill="#8a1848" opacity="0.78"/>
<circle cx="473.6" cy="200.4" r="0.80" fill="#a82858" opacity="0.92"/>
<circle cx="452.6" cy="225.4" r="0.78" fill="#c84060" opacity="0.61"/>
<circle cx="475.6" cy="218.9" r="1.03" fill="#c03868" opacity="0.78"/>
<circle cx="449.4" cy="216.9" r="0.76" fill="#6a2070" opacity="0.78"/>
<circle cx="461.1" cy="208.3" r="0.71" fill="#902050" opacity="0.86"/>
<circle cx="465.6" cy="206.7" r="1.04" fill="#902050" opacity="0.92"/>
<circle cx="476.3" cy="210.6" r="1.01" fill="#902050" opacity="0.66"/>
<circle cx="476.1" cy="228.3" r="0.79" fill="#6a2070" opacity="0.77"/>
<circle cx="466.7" cy="235.0" r="0.93" fill="#c84060" opacity="0.69"/>
<circle cx="469.9" cy="217.0" r="1.01" fill="#c03868" opacity="0.82"/>
<circle cx="467.8" cy="217.4" r="0.54" fill="#902050" opacity="0.71"/>
<circle cx="463.6" cy="240.6" r="1.18" fill="#902050" opacity="0.59"/>
<circle cx="475.8" cy="210.2" r="0.75" fill="#a82858" opacity="0.71"/>
<circle cx="452.9" cy="229.8" r="0.79" fill="#8a1848" opacity="0.75"/>
<circle cx="457.5" cy="232.2" r="1.07" fill="#d04870" opacity="0.89"/>
<circle cx="462.0" cy="196.9" r="0.88" fill="#8a1848" opacity="0.59"/>
<circle cx="460.8" cy="234.2" r="0.80" fill="#b83060" opacity="0.88"/>
<circle cx="464.4" cy="244.0" r="0.58" fill="#c84060" opacity="0.71"/>
<circle cx="466.4" cy="207.2" r="1.16" fill="#6a2070" opacity="0.79"/>
<circle cx="466.0" cy="237.0" r="0.90" fill="#b83060" opacity="0.86"/>
<circle cx="443.7" cy="214.2" r="0.56" fill="#6a2070" opacity="0.56"/>
<circle cx="459.2" cy="231.9" r="0.65" fill="#902050" opacity="0.91"/>
<circle cx="451.1" cy="211.9" r="0.99" fill="#d04870" opacity="0.94"/>
<circle cx="453.7" cy="234.0" r="0.67" fill="#781040" opacity="0.88"/>
<circle cx="457.1" cy="221.2" r="1.17" fill="#d04870" opacity="0.68"/>
<circle cx="444.5" cy="229.2" r="0.73" fill="#902050" opacity="0.73"/>
<circle cx="448.9" cy="231.5" r="1.04" fill="#6a2070" opacity="0.85"/>
<circle cx="459.7" cy="227.1" r="0.59" fill="#781040" opacity="0.78"/>
<circle cx="471.7" cy="202.7" r="1.12" fill="#8a1848" opacity="0.83"/>
<circle cx="444.6" cy="220.0" r="1.29" fill="#902050" opacity="0.92"/>
<circle cx="472.0" cy="212.8" r="1.07" fill="#6a2070" opacity="0.55"/>
<circle cx="451.5" cy="221.0" r="0.74" fill="#8a1848" opacity="0.92"/>
<circle cx="469.6" cy="202.6" r="0.80" fill="#902050" opacity="0.75"/>
<circle cx="453.8" cy="213.9" r="0.55" fill="#d04870" opacity="0.91"/>
<circle cx="447.9" cy="236.5" r="0.53" fill="#8a1848" opacity="0.66"/>
<circle cx="449.6" cy="234.1" r="0.92" fill="#781040" opacity="0.56"/>
<circle cx="450.7" cy="223.4" r="1.23" fill="#d04870" opacity="0.58"/>
<circle cx="445.7" cy="209.1" r="0.59" fill="#8a1848" opacity="0.90"/>
<circle cx="457.7" cy="205.7" r="0.67" fill="#8a1848" opacity="0.84"/>
<circle cx="444.1" cy="237.5" r="1.08" fill="#c84060" opacity="0.56"/>
<circle cx="462.8" cy="245.5" r="1.20" fill="#c84060" opacity="0.58"/>
<circle cx="470.8" cy="207.4" r="1.24" fill="#902050" opacity="0.89"/>
<circle cx="445.9" cy="227.6" r="0.65" fill="#d04870" opacity="0.62"/>
<circle cx="472.5" cy="220.0" r="0.87" fill="#c84060" opacity="0.65"/>
<circle cx="469.3" cy="208.4" r="0.92" fill="#c03868" opacity="0.90"/>
<circle cx="466.3" cy="226.8" r="0.92" fill="#8a1848" opacity="0.63"/>
<circle cx="466.2" cy="208.9" r="0.60" fill="#8a1848" opacity="0.64"/>
<circle cx="451.5" cy="213.1" r="1.17" fill="#781040" opacity="0.91"/>
<circle cx="464.4" cy="214.2" r="0.90" fill="#8a1848" opacity="0.93"/>
<circle cx="450.3" cy="237.7" r="1.10" fill="#c84060" opacity="0.79"/>
<circle cx="474.4" cy="215.4" r="0.95" fill="#a82858" opacity="0.80"/>
<circle cx="465.1" cy="234.4" r="0.68" fill="#902050" opacity="0.60"/>
<circle cx="469.9" cy="232.5" r="1.00" fill="#6a2070" opacity="0.64"/>
<circle cx="450.6" cy="222.4" r="0.66" fill="#c03868" opacity="0.71"/>
<circle cx="455.9" cy="199.3" r="0.63" fill="#902050" opacity="0.91"/>
<circle cx="464.1" cy="242.9" r="0.95" fill="#6a2070" opacity="0.65"/>
<circle cx="447.8" cy="240.0" r="0.71" fill="#a82858" opacity="0.76"/>
<circle cx="442.6" cy="219.3" r="1.14" fill="#781040" opacity="0.69"/>
<circle cx="471.0" cy="236.0" r="1.15" fill="#6a2070" opacity="0.70"/>
<circle cx="447.1" cy="216.8" r="0.62" fill="#c03868" opacity="0.89"/>
<circle cx="449.2" cy="220.6" r="0.91" fill="#902050" opacity="0.88"/>
<circle cx="469.2" cy="234.2" r="0.51" fill="#a82858" opacity="0.60"/>
<circle cx="459.9" cy="201.1" r="1.05" fill="#a82858" opacity="0.82"/>
<circle cx="443.4" cy="216.3" r="0.71" fill="#781040" opacity="0.58"/>
<circle cx="463.7" cy="215.2" r="0.77" fill="#b83060" opacity="0.64"/>
<circle cx="449.5" cy="214.5" r="1.07" fill="#b83060" opacity="0.54"/>
<circle cx="465.6" cy="205.5" r="1.05" fill="#a82858" opacity="0.71"/>
<circle cx="451.7" cy="232.8" r="0.96" fill="#6a2070" opacity="0.67"/>
<circle cx="447.8" cy="236.7" r="0.94" fill="#c03868" opacity="0.61"/>
<circle cx="442.8" cy="236.0" r="0.75" fill="#8a1848" opacity="0.76"/>
<circle cx="440.0" cy="225.3" r="0.97" fill="#902050" opacity="0.94"/>
<circle cx="456.2" cy="228.0" r="1.16" fill="#781040" opacity="0.53"/>
<circle cx="446.1" cy="240.1" r="0.73" fill="#781040" opacity="0.70"/>
<circle cx="471.6" cy="203.8" r="1.16" fill="#c03868" opacity="0.59"/>
<circle cx="460.4" cy="245.7" r="1.13" fill="#c84060" opacity="0.66"/>
<circle cx="476.4" cy="230.9" r="0.77" fill="#a82858" opacity="0.73"/>
<circle cx="466.6" cy="203.7" r="0.99" fill="#a82858" opacity="0.79"/>
<circle cx="473.8" cy="231.3" r="0.95" fill="#b83060" opacity="0.84"/>
<circle cx="476.6" cy="228.3" r="1.14" fill="#d04870" opacity="0.64"/>
<circle cx="456.1" cy="245.0" r="0.52" fill="#781040" opacity="0.82"/>
<circle cx="443.9" cy="219.2" r="1.19" fill="#8a1848" opacity="0.70"/>
<circle cx="449.6" cy="209.7" r="1.11" fill="#a82858" opacity="0.72"/>
<circle cx="448.8" cy="205.4" r="1.13" fill="#b83060" opacity="0.81"/>
<circle cx="451.2" cy="232.5" r="1.03" fill="#d04870" opacity="0.85"/>
<circle cx="461.0" cy="224.4" r="0.71" fill="#c84060" opacity="0.55"/>
<circle cx="443.0" cy="222.9" r="0.54" fill="#c03868" opacity="0.50"/>
<circle cx="446.7" cy="222.0" r="0.58" fill="#8a1848" opacity="0.59"/>
<circle cx="452.9" cy="245.8" r="0.62" fill="#c03868" opacity="0.80"/>
<circle cx="471.2" cy="225.0" r="0.74" fill="#781040" opacity="0.52"/>
<circle cx="470.3" cy="230.0" r="0.67" fill="#781040" opacity="0.71"/>
<circle cx="477.3" cy="224.7" r="1.05" fill="#a82858" opacity="0.57"/>
<circle cx="468.2" cy="213.3" r="0.98" fill="#6a2070" opacity="0.51"/>
<circle cx="455.0" cy="224.2" r="0.76" fill="#c03868" opacity="0.83"/>
<circle cx="448.8" cy="209.1" r="0.51" fill="#c84060" opacity="0.80"/>
<circle cx="463.5" cy="231.8" r="0.68" fill="#b83060" opacity="0.88"/>
<circle cx="452.0" cy="216.3" r="0.53" fill="#6a2070" opacity="0.94"/>
<circle cx="454.6" cy="246.7" r="0.88" fill="#6a2070" opacity="0.92"/>
<circle cx="458.2" cy="221.7" r="0.53" fill="#902050" opacity="0.54"/>
<circle cx="460.8" cy="227.9" r="0.64" fill="#b83060" opacity="0.90"/>
<circle cx="460.7" cy="244.7" r="0.90" fill="#902050" opacity="0.51"/>
<circle cx="450.9" cy="220.1" r="1.16" fill="#a82858" opacity="0.65"/>
<circle cx="467.2" cy="214.1" r="1.23" fill="#d04870" opacity="0.75"/>
<circle cx="478.4" cy="209.7" r="0.90" fill="#d04870" opacity="0.88"/>
<circle cx="441.7" cy="224.4" r="1.29" fill="#8a1848" opacity="0.74"/>
<circle cx="447.0" cy="209.1" r="1.17" fill="#b83060" opacity="0.73"/>
<circle cx="465.1" cy="207.0" r="1.22" fill="#c84060" opacity="0.57"/>
<circle cx="462.4" cy="228.2" r="1.25" fill="#b83060" opacity="0.90"/>
<circle cx="445.3" cy="212.1" r="0.62" fill="#902050" opacity="0.54"/>
<circle cx="469.4" cy="231.8" r="1.01" fill="#902050" opacity="0.89"/>
<circle cx="465.8" cy="231.1" r="0.94" fill="#c84060" opacity="0.93"/>
<circle cx="462.5" cy="208.4" r="0.51" fill="#c03868" opacity="0.91"/>
<circle cx="454.9" cy="235.7" r="0.53" fill="#6a2070" opacity="0.59"/>
<circle cx="445.6" cy="232.6" r="1.13" fill="#d04870" opacity="0.77"/>
<circle cx="467.6" cy="240.7" r="1.04" fill="#781040" opacity="0.62"/>
<circle cx="472.4" cy="230.3" r="0.86" fill="#c03868" opacity="0.77"/>
<circle cx="456.2" cy="243.2" r="0.62" fill="#902050" opacity="0.63"/>
<circle cx="474.5" cy="205.3" r="0.95" fill="#c03868" opacity="0.58"/>
<circle cx="475.0" cy="214.4" r="0.84" fill="#781040" opacity="0.73"/>
<circle cx="440.5" cy="230.6" r="1.14" fill="#781040" opacity="0.85"/>
<circle cx="458.7" cy="233.8" r="0.61" fill="#781040" opacity="0.63"/>
<circle cx="449.5" cy="204.5" r="1.00" fill="#c84060" opacity="0.51"/>
<circle cx="462.8" cy="206.3" r="0.70" fill="#8a1848" opacity="0.64"/>
<circle cx="474.8" cy="201.7" r="0.87" fill="#b83060" opacity="0.84"/>
<circle cx="471.3" cy="201.5" r="0.67" fill="#902050" opacity="0.60"/>
<circle cx="461.4" cy="226.2" r="0.86" fill="#8a1848" opacity="0.93"/>
<circle cx="446.5" cy="218.6" r="1.06" fill="#a82858" opacity="0.75"/>
<circle cx="462.3" cy="208.1" r="1.09" fill="#d04870" opacity="0.95"/>
<circle cx="445.8" cy="235.5" r="0.97" fill="#b83060" opacity="0.61"/>
<circle cx="470.7" cy="219.5" r="0.52" fill="#781040" opacity="0.88"/>
<circle cx="455.1" cy="210.7" r="0.85" fill="#c03868" opacity="0.62"/>
<circle cx="478.1" cy="224.2" r="0.99" fill="#c84060" opacity="0.66"/>
<circle cx="472.6" cy="228.1" r="0.98" fill="#b83060" opacity="0.60"/>
<circle cx="462.1" cy="217.2" r="1.10" fill="#781040" opacity="0.61"/>
<circle cx="449.7" cy="231.7" r="0.96" fill="#c03868" opacity="0.94"/>
<circle cx="453.0" cy="227.1" r="0.81" fill="#6a2070" opacity="0.54"/>
<circle cx="451.7" cy="237.8" r="1.30" fill="#d04870" opacity="0.75"/>
<circle cx="462.4" cy="223.1" r="0.97" fill="#c84060" opacity="0.84"/>
<circle cx="472.5" cy="227.2" r="1.03" fill="#a82858" opacity="0.79"/>
<circle cx="468.6" cy="239.0" r="0.96" fill="#a82858" opacity="0.66"/>
<circle cx="446.1" cy="218.6" r="0.75" fill="#6a2070" opacity="0.78"/>
<circle cx="470.6" cy="201.4" r="0.93" fill="#781040" opacity="0.60"/>
<circle cx="473.8" cy="228.9" r="0.62" fill="#b83060" opacity="0.59"/>
<circle cx="470.5" cy="212.2" r="0.61" fill="#c03868" opacity="0.90"/>
<circle cx="470.7" cy="235.4" r="1.01" fill="#a82858" opacity="0.66"/>
<circle cx="457.2" cy="234.2" r="1.20" fill="#b83060" opacity="0.93"/>
<circle cx="452.2" cy="235.1" r="0.64" fill="#b83060" opacity="0.83"/>
<circle cx="463.7" cy="201.7" r="1.00" fill="#c03868" opacity="0.72"/>
<circle cx="479.0" cy="221.3" r="0.92" fill="#8a1848" opacity="0.59"/>
<circle cx="448.7" cy="225.5" r="1.16" fill="#c03868" opacity="0.55"/>
<circle cx="473.2" cy="231.6" r="0.89" fill="#c84060" opacity="0.57"/>
<circle cx="468.7" cy="213.9" r="0.58" fill="#8a1848" opacity="0.58"/>
<circle cx="453.9" cy="211.0" r="0.63" fill="#b83060" opacity="0.70"/>
<circle cx="470.1" cy="220.7" r="0.69" fill="#c84060" opacity="0.57"/>
<circle cx="477.9" cy="210.3" r="0.95" fill="#c03868" opacity="0.57"/>
<circle cx="447.7" cy="211.2" r="0.99" fill="#c03868" opacity="0.74"/>
<circle cx="474.7" cy="205.1" r="0.79" fill="#6a2070" opacity="0.90"/>
<circle cx="475.6" cy="214.1" r="1.16" fill="#902050" opacity="0.93"/>
<circle cx="471.9" cy="224.5" r="0.56" fill="#902050" opacity="0.79"/>
<circle cx="454.5" cy="218.9" r="0.69" fill="#c03868" opacity="0.50"/>
<circle cx="450.8" cy="239.9" r="1.01" fill="#902050" opacity="0.52"/>
<circle cx="465.8" cy="242.7" r="1.18" fill="#a82858" opacity="0.77"/>
<circle cx="468.8" cy="234.4" r="0.93" fill="#b83060" opacity="0.83"/>
<circle cx="457.8" cy="227.4" r="0.93" fill="#c84060" opacity="0.82"/>
<circle cx="454.4" cy="201.3" r="0.59" fill="#c84060" opacity="0.58"/>
<circle cx="448.0" cy="221.9" r="0.99" fill="#8a1848" opacity="0.91"/>
<circle cx="465.7" cy="202.6" r="0.64" fill="#781040" opacity="0.86"/>
<circle cx="468.8" cy="228.8" r="0.67" fill="#c03868" opacity="0.62"/>
<circle cx="462.2" cy="226.7" r="0.64" fill="#d04870" opacity="0.59"/>
<circle cx="444.5" cy="240.4" r="0.73" fill="#d04870" opacity="0.74"/>
<circle cx="470.7" cy="210.8" r="1.01" fill="#d04870" opacity="0.65"/>
<circle cx="466.9" cy="220.4" r="1.30" fill="#a82858" opacity="0.70"/>
<circle cx="458.4" cy="222.3" r="0.58" fill="#8a1848" opacity="0.71"/>
<circle cx="455.5" cy="243.1" r="1.00" fill="#a82858" opacity="0.90"/>
<circle cx="468.9" cy="222.8" r="1.27" fill="#781040" opacity="0.54"/>
<circle cx="477.9" cy="224.2" r="0.64" fill="#902050" opacity="0.81"/>
<circle cx="471.3" cy="207.9" r="0.59" fill="#c03868" opacity="0.74"/>
<circle cx="463.5" cy="205.0" r="1.22" fill="#781040" opacity="0.60"/>
<circle cx="443.2" cy="239.9" r="1.06" fill="#781040" opacity="0.63"/>
<circle cx="457.2" cy="199.5" r="1.24" fill="#c84060" opacity="0.65"/>
<circle cx="460.7" cy="242.6" r="1.13" fill="#781040" opacity="0.81"/>
<circle cx="442.1" cy="218.9" r="0.67" fill="#d04870" opacity="0.55"/>
<circle cx="472.8" cy="231.9" r="0.77" fill="#8a1848" opacity="0.60"/>
<circle cx="458.7" cy="234.1" r="1.00" fill="#8a1848" opacity="0.79"/>
<circle cx="464.8" cy="220.6" r="0.65" fill="#781040" opacity="0.69"/>
<circle cx="447.9" cy="211.3" r="0.52" fill="#c84060" opacity="0.67"/>
<circle cx="460.4" cy="244.0" r="0.57" fill="#d04870" opacity="0.86"/>
<circle cx="473.6" cy="204.4" r="0.96" fill="#d04870" opacity="0.59"/>
<circle cx="454.8" cy="221.2" r="0.72" fill="#781040" opacity="0.64"/>
<circle cx="448.8" cy="228.7" r="0.60" fill="#c03868" opacity="0.88"/>
<circle cx="458.1" cy="227.8" r="0.52" fill="#c03868" opacity="0.88"/>
<circle cx="452.3" cy="225.2" r="0.58" fill="#d04870" opacity="0.86"/>
<circle cx="446.4" cy="238.3" r="1.23" fill="#8a1848" opacity="0.63"/>
<circle cx="464.9" cy="230.3" r="1.18" fill="#8a1848" opacity="0.70"/>
<circle cx="463.4" cy="245.5" r="0.70" fill="#d04870"/>
<circle cx="473.2" cy="200.8" r="1.03" fill="#c03868"/>
<circle cx="473.3" cy="238.0" r="0.69" fill="#8a1848"/>
<circle cx="467.7" cy="242.1" r="0.89" fill="#d04870"/>
<circle cx="477.8" cy="203.1" r="0.96" fill="#c03868"/>
<circle cx="446.2" cy="209.6" r="1.13" fill="#d04870"/>
<circle cx="444.6" cy="206.7" r="0.93" fill="#6a2070"/>
<circle cx="479.8" cy="219.0" r="0.79" fill="#6a2070"/>
<circle cx="477.1" cy="227.1" r="1.12" fill="#a82858"/>
<circle cx="455.6" cy="246.6" r="0.63" fill="#b83060"/>
<circle cx="471.8" cy="240.8" r="1.08" fill="#8a1848"/>
<circle cx="468.0" cy="244.2" r="0.65" fill="#781040"/>
<circle cx="454.7" cy="198.7" r="0.76" fill="#d04870"/>
<circle cx="478.6" cy="226.2" r="0.85" fill="#8a1848"/>
<circle cx="479.3" cy="226.0" r="0.87" fill="#8a1848"/>
<circle cx="459.9" cy="248.1" r="1.14" fill="#781040"/>
<circle cx="448.6" cy="245.6" r="0.70" fill="#781040"/>
<circle cx="467.7" cy="197.0" r="0.66" fill="#902050"/>
<circle cx="480.8" cy="214.0" r="0.75" fill="#c84060"/>
<circle cx="466.6" cy="197.8" r="0.61" fill="#a82858"/>
<circle cx="476.9" cy="203.5" r="0.65" fill="#6a2070"/>
<circle cx="444.7" cy="211.7" r="0.65" fill="#a82858"/>
<circle cx="453.5" cy="200.4" r="0.72" fill="#781040"/>
<circle cx="450.9" cy="203.4" r="1.17" fill="#a82858"/>
<circle cx="475.5" cy="202.9" r="0.70" fill="#b83060"/>
<circle cx="440.8" cy="236.1" r="0.88" fill="#c84060"/>
<circle cx="443.7" cy="208.0" r="0.90" fill="#8a1848"/>
<circle cx="455.4" cy="247.4" r="0.88" fill="#6a2070"/>
<circle cx="457.7" cy="196.7" r="0.81" fill="#b83060"/>
<circle cx="463.0" cy="245.8" r="1.19" fill="#8a1848"/>
<circle cx="445.0" cy="241.1" r="0.98" fill="#902050"/>
<circle cx="475.9" cy="201.8" r="1.18" fill="#c03868"/>
<circle cx="438.5" cy="222.5" r="0.91" fill="#6a2070"/>
<circle cx="457.9" cy="195.9" r="0.99" fill="#8a1848"/>
<circle cx="449.8" cy="248.4" r="0.97" fill="#c84060"/>
<circle cx="445.1" cy="242.6" r="0.70" fill="#b83060"/>
<circle cx="479.1" cy="215.0" r="0.81" fill="#902050"/>
<circle cx="442.7" cy="216.2" r="0.76" fill="#a82858"/>
<circle cx="469.0" cy="243.2" r="0.65" fill="#c84060"/>
<circle cx="478.8" cy="224.9" r="0.88" fill="#781040"/>
</g>
<path d="M451.5,232.8 Q462,231.5 470,230 Q476,228.5 478.5,224 L479.5,219" stroke="#f4eef4" stroke-width="1.1" fill="none" opacity="0.85"/>
<text x="0.0" y="298.8" font-size="18" font-weight="bold" fill="#000">C</text>
<line x1="27.5" y1="303" x2="27.5" y2="463" stroke="#333" stroke-width="1"/>
<line x1="27" y1="462.5" x2="242.5" y2="462.5" stroke="#333" stroke-width="1"/>
<line x1="27.5" y1="338.5" x2="237.5" y2="338.5" stroke="#3a3a3a" stroke-width="1"/>
<line x1="27.5" y1="367.5" x2="237.5" y2="367.5" stroke="#3a3a3a" stroke-width="1"/>
<line x1="27.5" y1="395.5" x2="237.5" y2="395.5" stroke="#3a3a3a" stroke-width="1"/>
<line x1="27.5" y1="425.5" x2="237.5" y2="425.5" stroke="#3a3a3a" stroke-width="1"/>
<text x="14.3" y="315.4" font-size="8.2" textLength="7.00" lengthAdjust="spacingAndGlyphs" stroke="#111" stroke-width="0.25">10</text>
<text x="21.6" y="312.3" font-size="6.5" textLength="3.40" lengthAdjust="spacingAndGlyphs" stroke="#111" stroke-width="0.2">4</text>
<text x="14.3" y="342.1" font-size="8.2" textLength="7.00" lengthAdjust="spacingAndGlyphs" stroke="#111" stroke-width="0.25">10</text>
<text x="21.4" y="337.6" font-size="6.5" textLength="3.20" lengthAdjust="spacingAndGlyphs" stroke="#111" stroke-width="0.2">3</text>
<text x="14.3" y="372.2" font-size="8.2" textLength="7.00" lengthAdjust="spacingAndGlyphs" stroke="#111" stroke-width="0.25">10</text>
<text x="21.1" y="368.2" font-size="6.5" textLength="3.70" lengthAdjust="spacingAndGlyphs" stroke="#111" stroke-width="0.2">2</text>
<text x="14.6" y="400.2" font-size="9.8" textLength="7.80" lengthAdjust="spacingAndGlyphs" stroke="#111" stroke-width="0.25">10</text>
<text x="15.5" y="431.4" font-size="10.5" textLength="3.60" lengthAdjust="spacingAndGlyphs" stroke="#111" stroke-width="0.25">1</text>
<text transform="translate(10.4,401.2) rotate(-90)" font-size="10.2" font-weight="bold" textLength="73.50" lengthAdjust="spacingAndGlyphs">cells/mL (105)</text>
<polyline points="36.0,420.5 51.6,404.4 67.7,390.7 84.0,376.4 100.2,363.2 116.2,349.4 133.1,337.6 148.8,331.0 165.0,329.2 180.4,328.0 196.8,328.8 213.0,328.8 229.5,328.8" fill="none" stroke="#000" stroke-width="4.2" stroke-linejoin="round"/>
<rect x="32.55" y="418.50" width="6.20" height="7.60" fill="#000"/>
<rect x="48.55" y="403.55" width="6.20" height="7.60" fill="#000"/>
<rect x="64.55" y="389.90" width="6.20" height="7.60" fill="#000"/>
<rect x="80.90" y="375.60" width="6.20" height="7.60" fill="#000"/>
<rect x="97.10" y="362.40" width="6.20" height="7.60" fill="#000"/>
<rect x="113.15" y="348.60" width="6.20" height="7.60" fill="#000"/>
<rect x="130.00" y="336.80" width="6.20" height="7.60" fill="#000"/>
<rect x="145.70" y="330.50" width="6.20" height="7.60" fill="#000"/>
<rect x="161.90" y="328.10" width="6.20" height="7.60" fill="#000"/>
<rect x="177.30" y="327.20" width="6.20" height="7.60" fill="#000"/>
<rect x="193.70" y="328.10" width="6.20" height="7.60" fill="#000"/>
<rect x="209.90" y="328.10" width="6.20" height="7.60" fill="#000"/>
<rect x="225.80" y="328.10" width="6.20" height="7.60" fill="#000"/>
<polyline points="36,423 51.6,405.5 66.5,388.4 229.5,386.6" fill="none" stroke="#000" stroke-width="4.0" stroke-linejoin="round"/>
<path d="M81.6,384.7 L86.8,384.7 L86.8,391.2 Q86.8,394.1 84.2,394.1 Q81.6,394.1 81.6,391.2 Z" fill="#000"/>
<rect x="83.2" y="386.1" width="2.1" height="4.6" rx="0.7" fill="#fbfbfb"/>
<path d="M97.7,384.7 L102.9,384.7 L102.9,391.2 Q102.9,394.1 100.3,394.1 Q97.7,394.1 97.7,391.2 Z" fill="#000"/>
<rect x="99.2" y="386.1" width="2.1" height="4.6" rx="0.7" fill="#fbfbfb"/>
<path d="M114.0,384.7 L119.2,384.7 L119.2,391.2 Q119.2,394.1 116.6,394.1 Q114.0,394.1 114.0,391.2 Z" fill="#000"/>
<rect x="115.5" y="386.1" width="2.1" height="4.6" rx="0.7" fill="#fbfbfb"/>
<path d="M129.8,384.7 L135.0,384.7 L135.0,391.2 Q135.0,394.1 132.4,394.1 Q129.8,394.1 129.8,391.2 Z" fill="#000"/>
<rect x="131.3" y="386.1" width="2.1" height="4.6" rx="0.7" fill="#fbfbfb"/>
<path d="M145.8,384.7 L151.0,384.7 L151.0,391.2 Q151.0,394.1 148.4,394.1 Q145.8,394.1 145.8,391.2 Z" fill="#000"/>
<rect x="147.3" y="386.1" width="2.1" height="4.6" rx="0.7" fill="#fbfbfb"/>
<path d="M162.6,384.7 L167.8,384.7 L167.8,391.2 Q167.8,394.1 165.2,394.1 Q162.6,394.1 162.6,391.2 Z" fill="#000"/>
<rect x="164.1" y="386.1" width="2.1" height="4.6" rx="0.7" fill="#fbfbfb"/>
<path d="M178.0,384.7 L183.2,384.7 L183.2,391.2 Q183.2,394.1 180.6,394.1 Q178.0,394.1 178.0,391.2 Z" fill="#000"/>
<rect x="179.5" y="386.1" width="2.1" height="4.6" rx="0.7" fill="#fbfbfb"/>
<path d="M194.8,384.7 L200.0,384.7 L200.0,391.2 Q200.0,394.1 197.4,394.1 Q194.8,394.1 194.8,391.2 Z" fill="#000"/>
<rect x="196.3" y="386.1" width="2.1" height="4.6" rx="0.7" fill="#fbfbfb"/>
<path d="M211.2,384.7 L216.3,384.7 L216.3,391.2 Q216.3,394.1 213.8,394.1 Q211.2,394.1 211.2,391.2 Z" fill="#000"/>
<rect x="212.7" y="386.1" width="2.1" height="4.6" rx="0.7" fill="#fbfbfb"/>
<path d="M227.0,384.7 L232.2,384.7 L232.2,391.2 Q232.2,394.1 229.6,394.1 Q227.0,394.1 227.0,391.2 Z" fill="#000"/>
<rect x="228.5" y="386.1" width="2.1" height="4.6" rx="0.7" fill="#fbfbfb"/>
<rect x="64.80" y="385.60" width="5.20" height="4.60" fill="#000"/>
<rect x="66.00" y="386.60" width="2.80" height="2.40" fill="#f4f4f4"/>
<circle cx="35.8" cy="424.5" r="3.0" fill="#000"/>
<text x="9.8" y="453.6" font-size="12" textLength="15.30" lengthAdjust="spacingAndGlyphs" stroke="#111" stroke-width="0.35">%B+</text>
<text x="33.6" y="452.8" font-size="11.8" textLength="5.80" lengthAdjust="spacingAndGlyphs" stroke="#111" stroke-width="0.25">0</text>
<text x="60.9" y="452.8" font-size="11.8" textLength="25.80" lengthAdjust="spacingAndGlyphs" stroke="#111" stroke-width="0.25">35-45</text>
<text x="92.1" y="452.8" font-size="11.8" textLength="25.30" lengthAdjust="spacingAndGlyphs" stroke="#111" stroke-width="0.25">75-85</text>
<text x="126.6" y="452.8" font-size="11.8" textLength="16.30" lengthAdjust="spacingAndGlyphs" stroke="#111" stroke-width="0.25">100</text>
<text x="156.6" y="452.8" font-size="11.8" textLength="16.80" lengthAdjust="spacingAndGlyphs" stroke="#111" stroke-width="0.25">100</text>
<text x="194.1" y="452.8" font-size="11.8" textLength="15.80" lengthAdjust="spacingAndGlyphs" stroke="#111" stroke-width="0.25">100</text>
<text x="222.1" y="452.8" font-size="11.8" textLength="17.10" lengthAdjust="spacingAndGlyphs" stroke="#111" stroke-width="0.25">100</text>
<text x="36.4" y="475.2" font-size="9" textLength="4.40" lengthAdjust="spacingAndGlyphs" text-anchor="middle" stroke="#111" stroke-width="0.3">0</text>
<text x="70.0" y="475.2" font-size="9" textLength="4.40" lengthAdjust="spacingAndGlyphs" text-anchor="middle" stroke="#111" stroke-width="0.3">2</text>
<text x="102.5" y="475.2" font-size="9" textLength="4.40" lengthAdjust="spacingAndGlyphs" text-anchor="middle" stroke="#111" stroke-width="0.3">4</text>
<text x="133.7" y="475.2" font-size="9" textLength="4.40" lengthAdjust="spacingAndGlyphs" text-anchor="middle" stroke="#111" stroke-width="0.3">6</text>
<text x="165.6" y="475.2" font-size="9" textLength="4.40" lengthAdjust="spacingAndGlyphs" text-anchor="middle" stroke="#111" stroke-width="0.3">8</text>
<text x="200.6" y="475.2" font-size="9" textLength="8.60" lengthAdjust="spacingAndGlyphs" text-anchor="middle" stroke="#111" stroke-width="0.3">10</text>
<text x="230.4" y="475.2" font-size="9" textLength="8.60" lengthAdjust="spacingAndGlyphs" text-anchor="middle" stroke="#111" stroke-width="0.3">12</text>
<text x="79.2" y="484.3" font-size="10" textLength="101.60" lengthAdjust="spacingAndGlyphs" stroke="#111" stroke-width="0.3">Time in HMBA (DAYS)</text>
<text x="198.8" y="349.6" font-size="10" textLength="22.20" lengthAdjust="spacingAndGlyphs" stroke="#111" stroke-width="0.2">+dox</text>
<text x="200.4" y="405.0" font-size="10" textLength="21.20" lengthAdjust="spacingAndGlyphs" stroke="#111" stroke-width="0.2">-dox</text>
<text x="254.8" y="298.8" font-size="18" font-weight="bold" fill="#000">D</text>
<text x="346.0" y="306.3" font-size="10" font-weight="bold" textLength="73.60" lengthAdjust="spacingAndGlyphs">Time in HMBA (DAYS)</text>
<text x="436.0" y="306.3" font-size="10" font-weight="bold" textLength="73.60" lengthAdjust="spacingAndGlyphs">Time in HMBA (DAYS)</text>
<text x="369.0" y="318.5" font-size="8.8" font-weight="bold" textLength="29.60" lengthAdjust="spacingAndGlyphs">with Dox</text>
<text x="453.8" y="318.5" font-size="8.8" font-weight="bold" textLength="41.20" lengthAdjust="spacingAndGlyphs">without Dox</text>
<text x="338.4" y="327.8" font-size="10" font-weight="bold" textLength="4.40" lengthAdjust="spacingAndGlyphs">0</text>
<text x="348.1" y="327.8" font-size="10" font-weight="bold" textLength="3.60" lengthAdjust="spacingAndGlyphs">1</text>
<text x="357.5" y="327.8" font-size="10" font-weight="bold" textLength="5.10" lengthAdjust="spacingAndGlyphs">3</text>
<text x="368.5" y="327.8" font-size="10" font-weight="bold" textLength="5.00" lengthAdjust="spacingAndGlyphs">5</text>
<text x="377.6" y="327.8" font-size="10" font-weight="bold" textLength="4.70" lengthAdjust="spacingAndGlyphs">7</text>
<text x="387.0" y="327.8" font-size="10" font-weight="bold" textLength="5.00" lengthAdjust="spacingAndGlyphs">9</text>
<text x="395.8" y="327.8" font-size="10" font-weight="bold" textLength="7.40" lengthAdjust="spacingAndGlyphs">11</text>
<text x="403.9" y="327.8" font-size="10" font-weight="bold" textLength="8.50" lengthAdjust="spacingAndGlyphs">13</text>
<text x="412.1" y="327.8" font-size="10" font-weight="bold" textLength="10.10" lengthAdjust="spacingAndGlyphs">15</text>
<text x="435.0" y="327.8" font-size="10" font-weight="bold" textLength="4.30" lengthAdjust="spacingAndGlyphs">0</text>
<text x="443.9" y="327.8" font-size="10" font-weight="bold" textLength="3.70" lengthAdjust="spacingAndGlyphs">1</text>
<text x="453.9" y="327.8" font-size="10" font-weight="bold" textLength="4.70" lengthAdjust="spacingAndGlyphs">3</text>
<text x="463.3" y="327.8" font-size="10" font-weight="bold" textLength="5.20" lengthAdjust="spacingAndGlyphs">5</text>
<text x="472.0" y="327.8" font-size="10" font-weight="bold" textLength="5.20" lengthAdjust="spacingAndGlyphs">7</text>
<text x="482.0" y="327.8" font-size="10" font-weight="bold" textLength="5.30" lengthAdjust="spacingAndGlyphs">9</text>
<text x="491.4" y="327.8" font-size="10" font-weight="bold" textLength="7.50" lengthAdjust="spacingAndGlyphs">11</text>
<text x="500.1" y="327.8" font-size="10" font-weight="bold" textLength="8.90" lengthAdjust="spacingAndGlyphs">13</text>
<text x="510.2" y="327.8" font-size="10" font-weight="bold" textLength="10.80" lengthAdjust="spacingAndGlyphs">15</text>
<text x="255.8" y="353.8" font-size="10.6" textLength="76.60" lengthAdjust="spacingAndGlyphs" stroke="#111" stroke-width="0.45">CDK(2+4R24C).32</text>
<text x="255.8" y="394.8" font-size="10.6" textLength="76.60" lengthAdjust="spacingAndGlyphs" stroke="#111" stroke-width="0.45">CDK(2+4R24C).40</text>
<rect x="334.9" y="328.5" width="88.7" height="31.5" fill="#f1f1f1" filter="url(#edge)"/>
<rect x="334.9" y="371.8" width="88.7" height="37.0" fill="#f1f1f1" filter="url(#edge)"/>
<rect x="430.7" y="328.5" width="89.1" height="35.5" fill="#f1f1f1" filter="url(#edge)"/>
<rect x="430.7" y="371.8" width="89.1" height="36.4" fill="#f1f1f1" filter="url(#edge)"/>
<rect x="389.0" y="461.0" width="58.5" height="22.8" fill="#f1f1f1" filter="url(#edge)"/>
<g>
<rect x="356.6" y="346.1" width="5.5" height="4.5" rx="1.8" ry="1.3" fill="#2a2a2a" opacity="0.648" filter="url(#bblur)"/>
<line x1="355.3" y1="358.1" x2="364.1" y2="358.1" stroke="#777" stroke-width="1"/>
<rect x="366.1" y="344.2" width="8.5" height="13.5" rx="2.7" ry="4.0" fill="#555" opacity="0.378" filter="url(#bblur)"/>
<rect x="365.5" y="339.8" width="9.8" height="14.5" rx="3.1" ry="4.3" fill="#2a2a2a" opacity="0.918" filter="url(#bblur)"/>
<rect x="375.8" y="344.3" width="8.5" height="13.0" rx="2.7" ry="3.9" fill="#555" opacity="0.378" filter="url(#bblur)"/>
<rect x="375.1" y="339.8" width="9.8" height="14.0" rx="3.1" ry="4.2" fill="#2a2a2a" opacity="0.918" filter="url(#bblur)"/>
<rect x="385.8" y="344.3" width="8.5" height="13.0" rx="2.7" ry="3.9" fill="#555" opacity="0.378" filter="url(#bblur)"/>
<rect x="385.1" y="339.8" width="9.8" height="14.0" rx="3.1" ry="4.2" fill="#2a2a2a" opacity="0.918" filter="url(#bblur)"/>
<rect x="395.2" y="344.3" width="8.5" height="13.0" rx="2.7" ry="3.9" fill="#555" opacity="0.378" filter="url(#bblur)"/>
<rect x="394.6" y="339.8" width="9.8" height="14.0" rx="3.1" ry="4.2" fill="#2a2a2a" opacity="0.918" filter="url(#bblur)"/>
<rect x="405.4" y="342.7" width="8.5" height="15.0" rx="2.7" ry="4.5" fill="#555" opacity="0.378" filter="url(#bblur)"/>
<rect x="404.7" y="338.2" width="9.8" height="16.0" rx="3.1" ry="4.8" fill="#2a2a2a" opacity="0.9720000000000001" filter="url(#bblur)"/>
<rect x="414.8" y="342.4" width="8.5" height="15.5" rx="2.7" ry="4.6" fill="#555" opacity="0.378" filter="url(#bblur)"/>
<rect x="414.1" y="337.9" width="9.8" height="16.5" rx="3.1" ry="5.0" fill="#2a2a2a" opacity="0.9720000000000001" filter="url(#bblur)"/>
</g>
<rect x="338.7" y="389.8" width="4.0" height="5.0" rx="1.3" ry="1.5" fill="#2a2a2a" opacity="0.1296" filter="url(#bblur)"/>
<rect x="356.7" y="391.0" width="3.6" height="7.0" rx="1.2" ry="2.1" fill="#2a2a2a" opacity="0.19440000000000002" filter="url(#bblur)"/>
<rect x="367.4" y="379.5" width="7.5" height="12.0" rx="2.4" ry="3.6" fill="#555" opacity="0.15120000000000003" filter="url(#bblur)"/>
<rect x="366.6" y="384.8" width="9.2" height="17.5" rx="2.9" ry="5.2" fill="#2a2a2a" opacity="0.918" filter="url(#bblur)"/>
<rect x="377.1" y="380.5" width="7.5" height="12.0" rx="2.4" ry="3.6" fill="#555" opacity="0.15120000000000003" filter="url(#bblur)"/>
<rect x="376.2" y="385.8" width="9.2" height="17.5" rx="2.9" ry="5.2" fill="#2a2a2a" opacity="0.918" filter="url(#bblur)"/>
<rect x="386.8" y="377.8" width="7.5" height="12.0" rx="2.4" ry="3.6" fill="#555" opacity="0.15120000000000003" filter="url(#bblur)"/>
<rect x="385.9" y="383.1" width="9.2" height="17.5" rx="2.9" ry="5.2" fill="#080808" opacity="1.0" filter="url(#bblur)"/>
<rect x="396.1" y="378.5" width="7.5" height="12.0" rx="2.4" ry="3.6" fill="#555" opacity="0.15120000000000003" filter="url(#bblur)"/>
<rect x="395.2" y="383.8" width="9.2" height="17.5" rx="2.9" ry="5.2" fill="#2a2a2a" opacity="0.918" filter="url(#bblur)"/>
<rect x="405.2" y="378.0" width="7.5" height="12.0" rx="2.4" ry="3.6" fill="#555" opacity="0.15120000000000003" filter="url(#bblur)"/>
<rect x="404.4" y="383.2" width="9.2" height="17.5" rx="2.9" ry="5.2" fill="#2a2a2a" opacity="0.9504" filter="url(#bblur)"/>
<rect x="414.4" y="376.0" width="7.5" height="12.0" rx="2.4" ry="3.6" fill="#555" opacity="0.15120000000000003" filter="url(#bblur)"/>
<rect x="413.6" y="381.2" width="9.2" height="17.5" rx="2.9" ry="5.2" fill="#2a2a2a" opacity="0.918" filter="url(#bblur)"/>
<rect x="434.1" y="343.8" width="5.0" height="3.0" rx="1.6" ry="0.9" fill="#2a2a2a" opacity="0.27" filter="url(#bblur)"/>
<rect x="450.8" y="344.9" width="12.0" height="12.0" rx="3.8" ry="3.6" fill="#2a2a2a" opacity="0.9720000000000001" filter="url(#bblur)"/>
<rect x="461.1" y="343.2" width="11.2" height="18.0" rx="3.6" ry="5.4" fill="#2a2a2a" opacity="0.9720000000000001" filter="url(#bblur)"/>
<rect x="470.4" y="340.7" width="10.8" height="17.0" rx="3.5" ry="5.1" fill="#2a2a2a" opacity="0.9720000000000001" filter="url(#bblur)"/>
<rect x="480.2" y="342.0" width="11.2" height="16.0" rx="3.6" ry="4.8" fill="#2a2a2a" opacity="0.9720000000000001" filter="url(#bblur)"/>
<rect x="490.2" y="341.8" width="10.2" height="15.5" rx="3.3" ry="4.6" fill="#2a2a2a" opacity="0.9396000000000001" filter="url(#bblur)"/>
<rect x="499.0" y="340.5" width="10.6" height="17.0" rx="3.4" ry="5.1" fill="#050505" opacity="1.0" filter="url(#bblur)"/>
<rect x="508.6" y="337.3" width="10.8" height="17.0" rx="3.5" ry="5.1" fill="#2a2a2a" opacity="0.9720000000000001" filter="url(#bblur)"/>
<rect x="464.0" y="373" width="8.0" height="23.0" fill="#999" opacity="0.45" filter="url(#bblur)"/>
<rect x="462.9" y="388.2" width="10.2" height="16.5" rx="3.3" ry="5.0" fill="#2a2a2a" opacity="0.9720000000000001" filter="url(#bblur)"/>
<rect x="473.6" y="373" width="8.0" height="22.0" fill="#999" opacity="0.45" filter="url(#bblur)"/>
<rect x="472.5" y="387.2" width="10.2" height="16.5" rx="3.3" ry="5.0" fill="#2a2a2a" opacity="0.9720000000000001" filter="url(#bblur)"/>
<rect x="482.7" y="373" width="8.0" height="22.0" fill="#999" opacity="0.45" filter="url(#bblur)"/>
<rect x="481.6" y="387.2" width="10.2" height="16.5" rx="3.3" ry="5.0" fill="#2a2a2a" opacity="0.9720000000000001" filter="url(#bblur)"/>
<rect x="492.6" y="373" width="8.0" height="20.5" fill="#999" opacity="0.45" filter="url(#bblur)"/>
<rect x="491.5" y="385.8" width="10.2" height="16.5" rx="3.3" ry="5.0" fill="#101010" opacity="1.0" filter="url(#bblur)"/>
<rect x="502.0" y="373" width="8.0" height="22.0" fill="#999" opacity="0.45" filter="url(#bblur)"/>
<rect x="500.9" y="387.2" width="10.2" height="16.5" rx="3.3" ry="5.0" fill="#2a2a2a" opacity="0.9720000000000001" filter="url(#bblur)"/>
<rect x="510.3" y="373" width="8.0" height="18.0" fill="#999" opacity="0.45" filter="url(#bblur)"/>
<rect x="509.2" y="383.2" width="10.2" height="16.5" rx="3.3" ry="5.0" fill="#2a2a2a" opacity="0.9720000000000001" filter="url(#bblur)"/>
<rect x="493.4" y="385.5" width="6.5" height="6.0" rx="2.1" ry="1.8" fill="#000" opacity="0.9720000000000001" filter="url(#bblur)"/>
<rect x="404.6" y="463.8" width="11.5" height="16.5" rx="3.7" ry="5.0" fill="#262626" opacity="0.9720000000000001" filter="url(#bblur)"/>
<rect x="433.4" y="465.2" width="12.5" height="14.5" rx="4.0" ry="4.3" fill="#262626" opacity="0.9720000000000001" filter="url(#bblur)"/>
<rect x="420.3" y="467.0" width="8.0" height="8.0" rx="2.6" ry="2.4" fill="#2a2a2a" opacity="0.10800000000000001" filter="url(#bblur)"/>
<text x="353.5" y="438.9" font-size="10.3" textLength="104.80" lengthAdjust="spacingAndGlyphs" stroke="#111" stroke-width="0.45">Time in HMBA (DAYS)</text>
<text x="375.3" y="449.3" font-size="9.2" font-weight="bold" textLength="14.00" lengthAdjust="spacingAndGlyphs">Dox</text>
<line x1="400.6" y1="446.1" x2="403.0" y2="446.1" stroke="#111" stroke-width="1.2"/>
<line x1="430.6" y1="445.2" x2="434.4" y2="445.2" stroke="#111" stroke-width="1.2"/>
<line x1="432.5" y1="442.5" x2="432.5" y2="449.0" stroke="#111" stroke-width="1.2"/>
<path d="M391.5,456.8 L391.5,451.2 Q391.5,449.3 393.4,449.3 L411.7,449.3 Q413.6,449.3 413.6,451.2 L413.6,455.6" fill="none" stroke="#111" stroke-width="1.4"/>
<path d="M421.6,456.0 L421.6,450.9 Q421.6,449.0 423.5,449.0 L440.4,449.0 Q442.3,449.0 442.3,450.9 L442.3,455.6" fill="none" stroke="#111" stroke-width="1.4"/>
<text x="392.6" y="458.3" font-size="10.6" font-weight="bold" textLength="4.20" lengthAdjust="spacingAndGlyphs">0</text>
<text x="407.6" y="458.3" font-size="10.6" font-weight="bold" textLength="4.20" lengthAdjust="spacingAndGlyphs">5</text>
<text x="422.6" y="458.3" font-size="10.6" font-weight="bold" textLength="4.20" lengthAdjust="spacingAndGlyphs">0</text>
<text x="437.0" y="458.3" font-size="10.6" font-weight="bold" textLength="4.80" lengthAdjust="spacingAndGlyphs">5</text>
<text x="352.6" y="479.7" font-size="10.5" font-weight="bold" textLength="36.20" lengthAdjust="spacingAndGlyphs">MEL rtTA</text>
<text x="449.2" y="476.3" font-size="9.5" textLength="13.00" lengthAdjust="spacingAndGlyphs" stroke="#111" stroke-width="0.3">-Hb</text>
</svg>
</body></html>
